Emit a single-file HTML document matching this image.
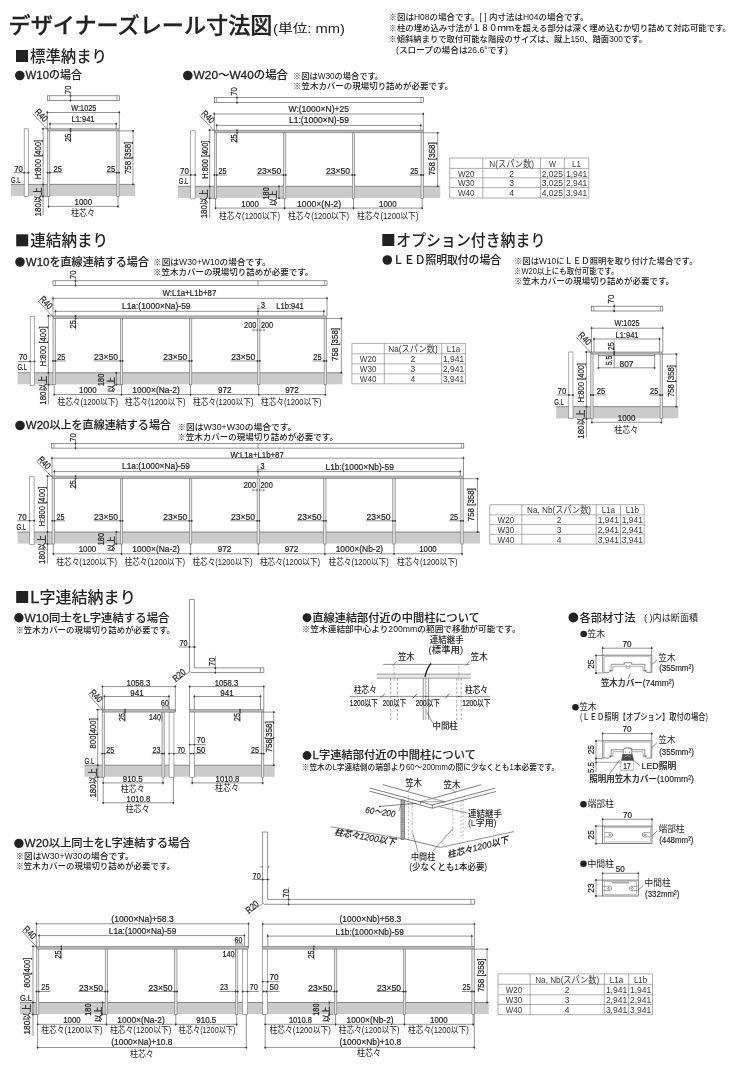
<!DOCTYPE html>
<html lang="ja"><head><meta charset="utf-8"><title>デザイナーズレール寸法図</title>
<style>
html,body{margin:0;padding:0;background:#fff;}
body{width:740px;height:1069px;overflow:hidden;}
svg{display:block;will-change:transform;transform:translateZ(0);}
text{fill:#222;}
.d{font-family:"Liberation Sans","Noto Sans CJK JP",sans-serif;stroke:#222;stroke-width:0.22px;}
.i{font-family:"Liberation Sans","Noto Sans CJK JP",sans-serif;font-style:italic;font-weight:500;stroke:#222;stroke-width:0.15px;}
.d2{font-family:"Liberation Sans","Noto Sans CJK JP",sans-serif;font-weight:500;stroke:#222;stroke-width:0.15px;}
.hs{font-family:"Liberation Sans","Noto Sans CJK JP",sans-serif;font-weight:500;stroke:#222;stroke-width:0.1px;}
.lb{font-size:104%;stroke:#222;stroke-width:0.28px;}
.n{font-family:"Liberation Sans","Noto Sans CJK JP",sans-serif;font-weight:500;}
.t{font-family:"Liberation Sans","Noto Sans CJK JP",sans-serif;fill:#3a3a3a;}
.h2{font-family:"Liberation Sans","Noto Sans CJK JP",sans-serif;font-weight:500;stroke:#222;stroke-width:0.3px;}
.j{font-family:"Liberation Sans","Noto Sans CJK JP",sans-serif;}
.h{font-family:"Liberation Sans","Noto Sans CJK JP",sans-serif;font-weight:500;}
.b{font-family:"Liberation Sans","Noto Sans CJK JP",sans-serif;font-weight:700;}
</style></head><body>
<svg width="740" height="1069" viewBox="0 0 740 1069">
<text class="h2" font-size="21.6" textLength="264" lengthAdjust="spacingAndGlyphs" x="8.5" y="33.18">デザイナーズレール寸法図</text>
<text class="j" font-size="12.5" textLength="72" lengthAdjust="spacingAndGlyphs" x="273" y="32.5">(単位: mm)</text>
<text class="n" font-size="8.4" textLength="200" lengthAdjust="spacingAndGlyphs" x="388.5" y="20.02">※図はH08の場合です。[ ] 内寸法はH04の場合です。</text>
<text class="n" font-size="8.4" textLength="342.5" lengthAdjust="spacingAndGlyphs" x="388.5" y="31.02">※柱の埋め込み寸法が１８０ｍｍを超える部分は深く埋め込むか切り詰めて対応可能です。</text>
<text class="n" font-size="8.4" textLength="258.5" lengthAdjust="spacingAndGlyphs" x="388.5" y="41.82">※傾斜納まりで取付可能な階段のサイズは、蹴上150、踏面300です。</text>
<text class="n" font-size="8.4" textLength="112" lengthAdjust="spacingAndGlyphs" x="396" y="52.62">(スロープの場合は26.6°です)</text>
<rect x="16" y="50" width="12" height="12" fill="#222"/>
<text class="h" font-size="15.5" textLength="77" lengthAdjust="spacingAndGlyphs" x="30" y="61.58">標準納まり</text>
<circle cx="19.8" cy="75.5" r="4.8" fill="#222"/>
<text class="hs" font-size="11" textLength="56.4" lengthAdjust="spacingAndGlyphs" x="25.6" y="79.46"><tspan class="lb">W10</tspan>の場合</text>
<circle cx="187.8" cy="75.5" r="4.8" fill="#222"/>
<text class="hs" font-size="11" textLength="94.4" lengthAdjust="spacingAndGlyphs" x="193.6" y="79.46"><tspan class="lb">W20</tspan>〜<tspan class="lb">W40</tspan>の場合</text>
<text class="n" font-size="8.4" textLength="90" lengthAdjust="spacingAndGlyphs" x="293" y="78.52">※図はW30の場合です。</text>
<text class="n" font-size="8.4" textLength="160" lengthAdjust="spacingAndGlyphs" x="293" y="88.52">※笠木カバーの現場切り詰めが必要です。</text>
<rect x="11" y="184.4" width="124.2" height="11.7" fill="#cbcbcb"/>
<line x1="11" y1="184.4" x2="135.2" y2="184.4" stroke="#4a4a4a" stroke-width="0.6"/>
<rect x="47.5" y="128.8" width="71.6" height="2.1" fill="#b8b8b8" stroke="#767676" stroke-width="0.6"/>
<rect x="47.5" y="130.9" width="2.3" height="65.5" fill="#e4e4e4" stroke="#767676" stroke-width="0.6"/>
<rect x="116.8" y="130.9" width="2.3" height="65.5" fill="#e4e4e4" stroke="#767676" stroke-width="0.6"/>
<rect x="24.2" y="128.8" width="4.2" height="67.6" fill="#fff" stroke="#767676" stroke-width="0.6"/>
<line x1="43.1" y1="128.8" x2="43.1" y2="215.4" stroke="#4a4a4a" stroke-width="0.6"/>
<line x1="41.6" y1="128.8" x2="47.5" y2="128.8" stroke="#4a4a4a" stroke-width="0.6"/>
<line x1="41.6" y1="196.4" x2="47.5" y2="196.4" stroke="#4a4a4a" stroke-width="0.6"/>
<circle cx="43.1" cy="128.8" r="0.9" fill="#333"/>
<circle cx="43.1" cy="184.4" r="0.9" fill="#333"/>
<circle cx="43.1" cy="196.4" r="0.9" fill="#333"/>
<text class="d" font-size="9.5" text-anchor="middle" textLength="39.5" lengthAdjust="spacingAndGlyphs" transform="translate(37.6 159.55) rotate(-90)" x="0" y="3.42">H:800 [400]</text>
<text class="d" font-size="8.8" text-anchor="middle" textLength="29" lengthAdjust="spacingAndGlyphs" transform="translate(37.6 201.9) rotate(-90)" x="0" y="3.17">180以上</text>
<text class="d" font-size="9.5" text-anchor="middle" textLength="8.6" lengthAdjust="spacingAndGlyphs" x="18.6" y="171.92">70</text>
<line x1="13.5" y1="172.7" x2="30" y2="172.7" stroke="#4a4a4a" stroke-width="0.6"/>
<circle cx="24.2" cy="172.7" r="0.9" fill="#333"/>
<circle cx="28.4" cy="172.7" r="0.9" fill="#333"/>
<text class="d" font-size="9.2" text-anchor="middle" textLength="9.5" lengthAdjust="spacingAndGlyphs" x="15.75" y="182.61">G.L</text>
<text class="d" font-size="9.5" text-anchor="middle" textLength="8.4" lengthAdjust="spacingAndGlyphs" x="57.7" y="171.92">25</text>
<line x1="47.5" y1="172.7" x2="62.5" y2="172.7" stroke="#4a4a4a" stroke-width="0.6"/>
<circle cx="47.5" cy="172.7" r="0.9" fill="#333"/>
<circle cx="49.8" cy="172.7" r="0.9" fill="#333"/>
<text class="d" font-size="9.5" text-anchor="middle" textLength="8.3" lengthAdjust="spacingAndGlyphs" x="110.95" y="171.92">25</text>
<line x1="106" y1="172.7" x2="119.1" y2="172.7" stroke="#4a4a4a" stroke-width="0.6"/>
<circle cx="116.8" cy="172.7" r="0.9" fill="#333"/>
<circle cx="119.1" cy="172.7" r="0.9" fill="#333"/>
<line x1="133" y1="130.9" x2="133" y2="184.4" stroke="#4a4a4a" stroke-width="0.6"/>
<line x1="119.1" y1="130.9" x2="134.5" y2="130.9" stroke="#4a4a4a" stroke-width="0.6"/>
<circle cx="133" cy="130.9" r="0.9" fill="#333"/>
<circle cx="133" cy="184.4" r="0.9" fill="#333"/>
<text class="d" font-size="9.5" text-anchor="middle" textLength="32" lengthAdjust="spacingAndGlyphs" transform="translate(127.3 157.9) rotate(-90)" x="0" y="3.42">758 [358]</text>
<line x1="48.6" y1="206.4" x2="118" y2="206.4" stroke="#4a4a4a" stroke-width="0.6"/>
<circle cx="48.6" cy="206.4" r="0.9" fill="#333"/>
<circle cx="118" cy="206.4" r="0.9" fill="#333"/>
<line x1="48.6" y1="196.4" x2="48.6" y2="208" stroke="#4a4a4a" stroke-width="0.6"/>
<line x1="118" y1="196.4" x2="118" y2="208" stroke="#4a4a4a" stroke-width="0.6"/>
<text class="d" font-size="9.5" text-anchor="middle" textLength="17.6" lengthAdjust="spacingAndGlyphs" x="83.3" y="205.02">1000</text>
<text class="j" font-size="8.6" text-anchor="middle" textLength="24" lengthAdjust="spacingAndGlyphs" x="82.9" y="216.1">柱芯々</text>
<rect x="47.3" y="95.8" width="72" height="4.6" fill="#fff" stroke="#4a4a4a" stroke-width="0.6"/>
<line x1="49.7" y1="95.8" x2="49.7" y2="100.4" stroke="#4a4a4a" stroke-width="0.5"/>
<line x1="116.9" y1="95.8" x2="116.9" y2="100.4" stroke="#4a4a4a" stroke-width="0.5"/>
<line x1="70.5" y1="93.2" x2="70.5" y2="101.8" stroke="#4a4a4a" stroke-width="0.6"/>
<circle cx="70.5" cy="95.8" r="0.9" fill="#333"/>
<circle cx="70.5" cy="100.4" r="0.9" fill="#333"/>
<text class="d" font-size="9.5" text-anchor="middle" textLength="8.3" lengthAdjust="spacingAndGlyphs" transform="translate(67.3 89.85) rotate(-90)" x="0" y="3.42">70</text>
<line x1="47.3" y1="112.5" x2="119.3" y2="112.5" stroke="#4a4a4a" stroke-width="0.6"/>
<circle cx="47.3" cy="112.5" r="0.9" fill="#333"/>
<circle cx="119.3" cy="112.5" r="0.9" fill="#333"/>
<line x1="47.3" y1="110.8" x2="47.3" y2="128.8" stroke="#4a4a4a" stroke-width="0.6"/>
<line x1="119.3" y1="110.8" x2="119.3" y2="128.8" stroke="#4a4a4a" stroke-width="0.6"/>
<text class="d" font-size="9.5" text-anchor="middle" textLength="25" lengthAdjust="spacingAndGlyphs" x="83.8" y="111.22">W:1025</text>
<line x1="50" y1="123.9" x2="116.3" y2="123.9" stroke="#4a4a4a" stroke-width="0.6"/>
<circle cx="50" cy="123.9" r="0.9" fill="#333"/>
<circle cx="116.3" cy="123.9" r="0.9" fill="#333"/>
<line x1="50" y1="122.2" x2="50" y2="128.8" stroke="#4a4a4a" stroke-width="0.6"/>
<line x1="116.3" y1="122.2" x2="116.3" y2="128.8" stroke="#4a4a4a" stroke-width="0.6"/>
<text class="d" font-size="9.5" text-anchor="middle" textLength="23" lengthAdjust="spacingAndGlyphs" x="83" y="122.42">L1:941</text>
<line x1="32.7" y1="113.7" x2="48.3" y2="130.2" stroke="#4a4a4a" stroke-width="0.6"/>
<text class="d" font-size="9.4" text-anchor="middle" textLength="14" lengthAdjust="spacingAndGlyphs" transform="translate(41.5 115.1) rotate(45)" x="0" y="3.38">R40</text>
<line x1="70.5" y1="128.8" x2="70.5" y2="142" stroke="#4a4a4a" stroke-width="0.6"/>
<circle cx="70.5" cy="128.8" r="0.9" fill="#333"/>
<circle cx="70.5" cy="130.9" r="0.9" fill="#333"/>
<text class="d" font-size="9.5" text-anchor="middle" textLength="8.3" lengthAdjust="spacingAndGlyphs" transform="translate(67.3 137.65) rotate(-90)" x="0" y="3.42">25</text>
<rect x="382.3" y="234" width="12" height="12" fill="#222"/>
<text class="h" font-size="15.5" textLength="149" lengthAdjust="spacingAndGlyphs" x="396.3" y="245.58">オプション付き納まり</text>
<circle cx="387.3" cy="260" r="4.8" fill="#222"/>
<text class="hs" font-size="11" textLength="107.9" lengthAdjust="spacingAndGlyphs" x="393.1" y="263.96">ＬＥＤ照明取付の場合</text>
<text class="n" font-size="8.4" textLength="183.5" lengthAdjust="spacingAndGlyphs" x="514" y="264.02">※図はW10にＬＥＤ照明を取り付けた場合です。</text>
<text class="n" font-size="8.4" textLength="104.5" lengthAdjust="spacingAndGlyphs" x="514" y="274.02">※W20以上にも取付可能です。</text>
<text class="n" font-size="8.4" textLength="160" lengthAdjust="spacingAndGlyphs" x="514" y="284.02">※笠木カバーの現場切り詰めが必要です。</text>
<rect x="556.2" y="406.7" width="122.2" height="11.7" fill="#cbcbcb"/>
<line x1="556.2" y1="406.7" x2="678.4" y2="406.7" stroke="#4a4a4a" stroke-width="0.6"/>
<rect x="590.8" y="352" width="71.6" height="2.1" fill="#b8b8b8" stroke="#767676" stroke-width="0.6"/>
<rect x="590.8" y="354.1" width="2.3" height="64.6" fill="#e4e4e4" stroke="#767676" stroke-width="0.6"/>
<rect x="660.1" y="354.1" width="2.3" height="64.6" fill="#e4e4e4" stroke="#767676" stroke-width="0.6"/>
<rect x="568.8" y="352" width="4.2" height="66.7" fill="#fff" stroke="#767676" stroke-width="0.6"/>
<line x1="586.4" y1="352" x2="586.4" y2="437.7" stroke="#4a4a4a" stroke-width="0.6"/>
<line x1="584.9" y1="352" x2="590.8" y2="352" stroke="#4a4a4a" stroke-width="0.6"/>
<line x1="584.9" y1="418.7" x2="590.8" y2="418.7" stroke="#4a4a4a" stroke-width="0.6"/>
<circle cx="586.4" cy="352" r="0.9" fill="#333"/>
<circle cx="586.4" cy="406.7" r="0.9" fill="#333"/>
<circle cx="586.4" cy="418.7" r="0.9" fill="#333"/>
<text class="d" font-size="9.5" text-anchor="middle" textLength="39.5" lengthAdjust="spacingAndGlyphs" transform="translate(580.9 382.75) rotate(-90)" x="0" y="3.42">H:800 [400]</text>
<text class="d" font-size="8.8" text-anchor="middle" textLength="29" lengthAdjust="spacingAndGlyphs" transform="translate(580.9 424.2) rotate(-90)" x="0" y="3.17">180以上</text>
<text class="d" font-size="9.5" text-anchor="middle" textLength="8.6" lengthAdjust="spacingAndGlyphs" x="561.9" y="394.22">70</text>
<line x1="556.8" y1="395" x2="573.3" y2="395" stroke="#4a4a4a" stroke-width="0.6"/>
<circle cx="568.8" cy="395" r="0.9" fill="#333"/>
<circle cx="573" cy="395" r="0.9" fill="#333"/>
<text class="d" font-size="9.2" text-anchor="middle" textLength="9.5" lengthAdjust="spacingAndGlyphs" x="559.05" y="404.91">G.L</text>
<text class="d" font-size="9.5" text-anchor="middle" textLength="8.4" lengthAdjust="spacingAndGlyphs" x="601" y="394.22">25</text>
<line x1="590.8" y1="395" x2="605.8" y2="395" stroke="#4a4a4a" stroke-width="0.6"/>
<circle cx="590.8" cy="395" r="0.9" fill="#333"/>
<circle cx="593.1" cy="395" r="0.9" fill="#333"/>
<text class="d" font-size="9.5" text-anchor="middle" textLength="8.3" lengthAdjust="spacingAndGlyphs" x="654.25" y="394.22">25</text>
<line x1="649.3" y1="395" x2="662.4" y2="395" stroke="#4a4a4a" stroke-width="0.6"/>
<circle cx="660.1" cy="395" r="0.9" fill="#333"/>
<circle cx="662.4" cy="395" r="0.9" fill="#333"/>
<line x1="676.3" y1="354.1" x2="676.3" y2="406.7" stroke="#4a4a4a" stroke-width="0.6"/>
<line x1="662.4" y1="354.1" x2="677.8" y2="354.1" stroke="#4a4a4a" stroke-width="0.6"/>
<circle cx="676.3" cy="354.1" r="0.9" fill="#333"/>
<circle cx="676.3" cy="406.7" r="0.9" fill="#333"/>
<text class="d" font-size="9.5" text-anchor="middle" textLength="32" lengthAdjust="spacingAndGlyphs" transform="translate(670.6 381.1) rotate(-90)" x="0" y="3.42">758 [358]</text>
<line x1="591.9" y1="422.3" x2="661.3" y2="422.3" stroke="#4a4a4a" stroke-width="0.6"/>
<circle cx="591.9" cy="422.3" r="0.9" fill="#333"/>
<circle cx="661.3" cy="422.3" r="0.9" fill="#333"/>
<line x1="591.9" y1="418.7" x2="591.9" y2="423.9" stroke="#4a4a4a" stroke-width="0.6"/>
<line x1="661.3" y1="418.7" x2="661.3" y2="423.9" stroke="#4a4a4a" stroke-width="0.6"/>
<text class="d" font-size="9.5" text-anchor="middle" textLength="17.6" lengthAdjust="spacingAndGlyphs" x="626.6" y="420.92">1000</text>
<text class="j" font-size="8.6" text-anchor="middle" textLength="24" lengthAdjust="spacingAndGlyphs" x="626.2" y="432.5">柱芯々</text>
<rect x="591.5" y="306.2" width="71.3" height="4.8" fill="#fff" stroke="#4a4a4a" stroke-width="0.6"/>
<line x1="593.9" y1="306.2" x2="593.9" y2="311" stroke="#4a4a4a" stroke-width="0.5"/>
<line x1="660.4" y1="306.2" x2="660.4" y2="311" stroke="#4a4a4a" stroke-width="0.5"/>
<line x1="614.2" y1="303.5" x2="614.2" y2="312.5" stroke="#4a4a4a" stroke-width="0.6"/>
<circle cx="614.2" cy="306.2" r="0.9" fill="#333"/>
<circle cx="614.2" cy="311" r="0.9" fill="#333"/>
<text class="d" font-size="9.5" text-anchor="middle" textLength="8.7" lengthAdjust="spacingAndGlyphs" transform="translate(611 299.05) rotate(-90)" x="0" y="3.42">70</text>
<line x1="591.5" y1="328.2" x2="662.8" y2="328.2" stroke="#4a4a4a" stroke-width="0.6"/>
<circle cx="591.5" cy="328.2" r="0.9" fill="#333"/>
<circle cx="662.8" cy="328.2" r="0.9" fill="#333"/>
<line x1="591.5" y1="326.5" x2="591.5" y2="352" stroke="#4a4a4a" stroke-width="0.6"/>
<line x1="662.8" y1="326.5" x2="662.8" y2="352" stroke="#4a4a4a" stroke-width="0.6"/>
<text class="d" font-size="9.5" text-anchor="middle" textLength="25" lengthAdjust="spacingAndGlyphs" x="627.1" y="326.22">W:1025</text>
<line x1="594" y1="339" x2="659.6" y2="339" stroke="#4a4a4a" stroke-width="0.6"/>
<circle cx="594" cy="339" r="0.9" fill="#333"/>
<circle cx="659.6" cy="339" r="0.9" fill="#333"/>
<line x1="594" y1="337.3" x2="594" y2="352" stroke="#4a4a4a" stroke-width="0.6"/>
<line x1="659.6" y1="337.3" x2="659.6" y2="352" stroke="#4a4a4a" stroke-width="0.6"/>
<text class="d" font-size="9.5" text-anchor="middle" textLength="23" lengthAdjust="spacingAndGlyphs" x="627" y="337.72">L1:941</text>
<line x1="576" y1="337" x2="591.5" y2="353.3" stroke="#4a4a4a" stroke-width="0.6"/>
<text class="d" font-size="9.4" text-anchor="middle" textLength="14" lengthAdjust="spacingAndGlyphs" transform="translate(584.9 338.4) rotate(45)" x="0" y="3.38">R40</text>
<line x1="614.2" y1="340.5" x2="614.2" y2="368" stroke="#4a4a4a" stroke-width="0.6"/>
<circle cx="614.2" cy="352" r="0.9" fill="#333"/>
<circle cx="614.2" cy="354.2" r="0.9" fill="#333"/>
<text class="d" font-size="9.5" text-anchor="middle" textLength="7.9" lengthAdjust="spacingAndGlyphs" transform="translate(611 346.25) rotate(-90)" x="0" y="3.42">25</text>
<text class="d" font-size="9.5" text-anchor="middle" textLength="9.6" lengthAdjust="spacingAndGlyphs" transform="translate(609 360.4) rotate(-90)" x="0" y="3.42">5.5</text>
<line x1="598.4" y1="355.6" x2="654.6" y2="355.6" stroke="#777" stroke-width="0.9"/>
<line x1="598.4" y1="367.8" x2="654.6" y2="367.8" stroke="#4a4a4a" stroke-width="0.6"/>
<circle cx="598.4" cy="367.8" r="0.9" fill="#333"/>
<circle cx="654.6" cy="367.8" r="0.9" fill="#333"/>
<line x1="598.4" y1="354.2" x2="598.4" y2="369" stroke="#4a4a4a" stroke-width="0.6"/>
<line x1="654.6" y1="354.2" x2="654.6" y2="369" stroke="#4a4a4a" stroke-width="0.6"/>
<text class="d" font-size="9.5" text-anchor="middle" textLength="14" lengthAdjust="spacingAndGlyphs" x="626.5" y="366.62">807</text>
<rect x="177.8" y="186.3" width="262.4" height="11.6" fill="#cbcbcb"/>
<line x1="177.8" y1="186.3" x2="440.2" y2="186.3" stroke="#4a4a4a" stroke-width="0.6"/>
<rect x="214.3" y="130.2" width="209.1" height="2.6" fill="#b8b8b8" stroke="#767676" stroke-width="0.6"/>
<rect x="214.3" y="132.8" width="2.4" height="65.5" fill="#e4e4e4" stroke="#767676" stroke-width="0.6"/>
<rect x="283.4" y="132.8" width="2.4" height="65.5" fill="#e4e4e4" stroke="#767676" stroke-width="0.6"/>
<rect x="352.3" y="132.8" width="2.4" height="65.5" fill="#e4e4e4" stroke="#767676" stroke-width="0.6"/>
<rect x="421" y="132.8" width="2.4" height="65.5" fill="#e4e4e4" stroke="#767676" stroke-width="0.6"/>
<line x1="209.7" y1="130.2" x2="209.7" y2="217.8" stroke="#4a4a4a" stroke-width="0.6"/>
<line x1="208.2" y1="130.2" x2="214.3" y2="130.2" stroke="#4a4a4a" stroke-width="0.6"/>
<line x1="208.2" y1="198.3" x2="214.3" y2="198.3" stroke="#4a4a4a" stroke-width="0.6"/>
<circle cx="209.7" cy="130.2" r="0.9" fill="#333"/>
<circle cx="209.7" cy="186.3" r="0.9" fill="#333"/>
<circle cx="209.7" cy="198.3" r="0.9" fill="#333"/>
<text class="d" font-size="9.5" text-anchor="middle" textLength="38" lengthAdjust="spacingAndGlyphs" transform="translate(204.1 159.7) rotate(-90)" x="0" y="3.42">H:800 [400]</text>
<text class="d" font-size="8.8" text-anchor="middle" textLength="29" lengthAdjust="spacingAndGlyphs" transform="translate(204.1 203.8) rotate(-90)" x="0" y="3.17">180以上</text>
<rect x="190.7" y="130.8" width="4.4" height="68.1" fill="#fff" stroke="#767676" stroke-width="0.6"/>
<text class="d" font-size="9.5" text-anchor="middle" textLength="8.8" lengthAdjust="spacingAndGlyphs" x="184.4" y="174.02">70</text>
<line x1="179.3" y1="175" x2="196.3" y2="175" stroke="#4a4a4a" stroke-width="0.6"/>
<circle cx="190.7" cy="175" r="0.9" fill="#333"/>
<circle cx="195.1" cy="175" r="0.9" fill="#333"/>
<text class="d" font-size="9.2" text-anchor="middle" textLength="9.5" lengthAdjust="spacingAndGlyphs" x="183.55" y="184.01">G.L</text>
<line x1="437.7" y1="132.8" x2="437.7" y2="186.3" stroke="#4a4a4a" stroke-width="0.6"/>
<line x1="423.4" y1="132.8" x2="439.2" y2="132.8" stroke="#4a4a4a" stroke-width="0.6"/>
<circle cx="437.7" cy="132.8" r="0.9" fill="#333"/>
<circle cx="437.7" cy="186.3" r="0.9" fill="#333"/>
<text class="d" font-size="9.5" text-anchor="middle" textLength="33" lengthAdjust="spacingAndGlyphs" transform="translate(431.1 158.8) rotate(-90)" x="0" y="3.42">758 [358]</text>
<text class="d" font-size="9.5" text-anchor="middle" textLength="8" lengthAdjust="spacingAndGlyphs" x="222.6" y="174.02">25</text>
<line x1="214.3" y1="175" x2="227.3" y2="175" stroke="#4a4a4a" stroke-width="0.6"/>
<circle cx="214.3" cy="175" r="0.9" fill="#333"/>
<circle cx="216.7" cy="175" r="0.9" fill="#333"/>
<text class="d" font-size="9.5" text-anchor="middle" textLength="8.2" lengthAdjust="spacingAndGlyphs" x="414.3" y="174.02">25</text>
<line x1="409.4" y1="175" x2="423.4" y2="175" stroke="#4a4a4a" stroke-width="0.6"/>
<circle cx="421" cy="175" r="0.9" fill="#333"/>
<circle cx="423.4" cy="175" r="0.9" fill="#333"/>
<text class="d" font-size="9.5" text-anchor="middle" textLength="24" lengthAdjust="spacingAndGlyphs" x="269.2" y="174.02">23×50</text>
<line x1="256.6" y1="175" x2="285.8" y2="175" stroke="#4a4a4a" stroke-width="0.6"/>
<circle cx="283.4" cy="175" r="0.9" fill="#333"/>
<circle cx="285.8" cy="175" r="0.9" fill="#333"/>
<text class="d" font-size="9.5" text-anchor="middle" textLength="24" lengthAdjust="spacingAndGlyphs" x="338.1" y="174.02">23×50</text>
<line x1="325.5" y1="175" x2="354.7" y2="175" stroke="#4a4a4a" stroke-width="0.6"/>
<circle cx="352.3" cy="175" r="0.9" fill="#333"/>
<circle cx="354.7" cy="175" r="0.9" fill="#333"/>
<text class="d" font-size="8.6" text-anchor="middle" textLength="12.2" lengthAdjust="spacingAndGlyphs" transform="translate(265.4 193.4) rotate(-90)" x="0" y="3.1">180</text>
<text class="d" font-size="8.4" text-anchor="middle" textLength="15.6" lengthAdjust="spacingAndGlyphs" transform="translate(273.4 198.3) rotate(-90)" x="0" y="3.02">以上</text>
<line x1="279" y1="186.3" x2="279" y2="198.4" stroke="#4a4a4a" stroke-width="0.6"/>
<circle cx="279" cy="186.3" r="0.9" fill="#333"/>
<circle cx="279" cy="198.2" r="0.9" fill="#333"/>
<line x1="277.5" y1="198.2" x2="283" y2="198.2" stroke="#4a4a4a" stroke-width="0.6"/>
<line x1="215.5" y1="208.1" x2="422.2" y2="208.1" stroke="#4a4a4a" stroke-width="0.6"/>
<line x1="215.5" y1="198.3" x2="215.5" y2="209.7" stroke="#4a4a4a" stroke-width="0.6"/>
<circle cx="215.5" cy="208.1" r="0.9" fill="#333"/>
<line x1="284.6" y1="198.3" x2="284.6" y2="209.7" stroke="#4a4a4a" stroke-width="0.6"/>
<circle cx="284.6" cy="208.1" r="0.9" fill="#333"/>
<line x1="353.5" y1="198.3" x2="353.5" y2="209.7" stroke="#4a4a4a" stroke-width="0.6"/>
<circle cx="353.5" cy="208.1" r="0.9" fill="#333"/>
<line x1="422.2" y1="198.3" x2="422.2" y2="209.7" stroke="#4a4a4a" stroke-width="0.6"/>
<circle cx="422.2" cy="208.1" r="0.9" fill="#333"/>
<text class="d" font-size="9.5" text-anchor="middle" textLength="17.5" lengthAdjust="spacingAndGlyphs" x="250.05" y="206.52">1000</text>
<text class="d" font-size="9.5" text-anchor="middle" textLength="44" lengthAdjust="spacingAndGlyphs" x="319.05" y="206.52">1000×(N-2)</text>
<text class="d" font-size="9.5" text-anchor="middle" textLength="17.5" lengthAdjust="spacingAndGlyphs" x="387.85" y="206.52">1000</text>
<text class="j" font-size="8.6" textLength="61.1" lengthAdjust="spacingAndGlyphs" x="218.9" y="218.9">柱芯々(1200以下)</text>
<text class="j" font-size="8.6" textLength="61" lengthAdjust="spacingAndGlyphs" x="288" y="218.9">柱芯々(1200以下)</text>
<text class="j" font-size="8.6" textLength="61.5" lengthAdjust="spacingAndGlyphs" x="357" y="218.9">柱芯々(1200以下)</text>
<rect x="214.3" y="97.6" width="209" height="5" fill="#fff" stroke="#4a4a4a" stroke-width="0.6"/>
<line x1="216.7" y1="97.6" x2="216.7" y2="102.6" stroke="#4a4a4a" stroke-width="0.5"/>
<line x1="420.9" y1="97.6" x2="420.9" y2="102.6" stroke="#4a4a4a" stroke-width="0.5"/>
<line x1="237" y1="94.9" x2="237" y2="104" stroke="#4a4a4a" stroke-width="0.6"/>
<circle cx="237" cy="97.6" r="0.9" fill="#333"/>
<circle cx="237" cy="102.6" r="0.9" fill="#333"/>
<text class="d" font-size="9.5" text-anchor="middle" textLength="8.4" lengthAdjust="spacingAndGlyphs" transform="translate(233.7 91.6) rotate(-90)" x="0" y="3.42">70</text>
<line x1="214.3" y1="114" x2="423.3" y2="114" stroke="#4a4a4a" stroke-width="0.6"/>
<circle cx="214.3" cy="114" r="0.9" fill="#333"/>
<circle cx="423.3" cy="114" r="0.9" fill="#333"/>
<line x1="214.3" y1="112.3" x2="214.3" y2="130.2" stroke="#4a4a4a" stroke-width="0.6"/>
<line x1="423.3" y1="112.3" x2="423.3" y2="130.2" stroke="#4a4a4a" stroke-width="0.6"/>
<text class="d" font-size="9.5" text-anchor="middle" textLength="60.5" lengthAdjust="spacingAndGlyphs" x="318.75" y="112.22">W:(1000×N)+25</text>
<line x1="216.7" y1="125.4" x2="420.8" y2="125.4" stroke="#4a4a4a" stroke-width="0.6"/>
<circle cx="216.7" cy="125.4" r="0.9" fill="#333"/>
<circle cx="420.8" cy="125.4" r="0.9" fill="#333"/>
<line x1="216.7" y1="123.7" x2="216.7" y2="130.2" stroke="#4a4a4a" stroke-width="0.6"/>
<line x1="420.8" y1="123.7" x2="420.8" y2="130.2" stroke="#4a4a4a" stroke-width="0.6"/>
<text class="d" font-size="9.5" text-anchor="middle" textLength="60" lengthAdjust="spacingAndGlyphs" x="319" y="123.42">L1:(1000×N)-59</text>
<line x1="199.5" y1="115.2" x2="215" y2="131.6" stroke="#4a4a4a" stroke-width="0.6"/>
<text class="d" font-size="9.4" text-anchor="middle" textLength="14" lengthAdjust="spacingAndGlyphs" transform="translate(208.1 116.7) rotate(45)" x="0" y="3.38">R40</text>
<line x1="237" y1="130.2" x2="237" y2="143.5" stroke="#4a4a4a" stroke-width="0.6"/>
<circle cx="237" cy="130.2" r="0.9" fill="#333"/>
<circle cx="237" cy="132.8" r="0.9" fill="#333"/>
<text class="d" font-size="9.5" text-anchor="middle" textLength="8.2" lengthAdjust="spacingAndGlyphs" transform="translate(233.8 138.5) rotate(-90)" x="0" y="3.42">25</text>
<line x1="449.7" y1="158" x2="588.8" y2="158" stroke="#777" stroke-width="0.6"/>
<line x1="449.7" y1="168.4" x2="588.8" y2="168.4" stroke="#777" stroke-width="0.6"/>
<line x1="449.7" y1="177.9" x2="588.8" y2="177.9" stroke="#777" stroke-width="0.6"/>
<line x1="449.7" y1="187.6" x2="588.8" y2="187.6" stroke="#777" stroke-width="0.6"/>
<line x1="449.7" y1="198" x2="588.8" y2="198" stroke="#777" stroke-width="0.6"/>
<line x1="449.7" y1="158" x2="449.7" y2="198" stroke="#777" stroke-width="0.6"/>
<line x1="482.8" y1="158" x2="482.8" y2="198" stroke="#777" stroke-width="0.6"/>
<line x1="540.5" y1="158" x2="540.5" y2="198" stroke="#777" stroke-width="0.6"/>
<line x1="564.3" y1="158" x2="564.3" y2="198" stroke="#777" stroke-width="0.6"/>
<line x1="588.8" y1="158" x2="588.8" y2="198" stroke="#777" stroke-width="0.6"/>
<text class="t" font-size="8.6" text-anchor="middle" textLength="44.89" lengthAdjust="spacingAndGlyphs" x="511.65" y="166.7">N(スパン数)</text>
<text class="t" font-size="8.6" text-anchor="middle" textLength="7.05" lengthAdjust="spacingAndGlyphs" x="552.4" y="166.7">W</text>
<text class="t" font-size="8.6" text-anchor="middle" textLength="8.86" lengthAdjust="spacingAndGlyphs" x="576.55" y="166.7">L1</text>
<text class="t" font-size="8.6" text-anchor="middle" textLength="16.51" lengthAdjust="spacingAndGlyphs" x="466.25" y="176.65">W20</text>
<text class="t" font-size="8.6" text-anchor="middle" textLength="4.73" lengthAdjust="spacingAndGlyphs" x="511.65" y="176.65">2</text>
<text class="t" font-size="8.6" text-anchor="middle" textLength="21.24" lengthAdjust="spacingAndGlyphs" x="552.4" y="176.65">2,025</text>
<text class="t" font-size="8.6" text-anchor="middle" textLength="21.24" lengthAdjust="spacingAndGlyphs" x="576.55" y="176.65">1,941</text>
<text class="t" font-size="8.6" text-anchor="middle" textLength="16.51" lengthAdjust="spacingAndGlyphs" x="466.25" y="186.25">W30</text>
<text class="t" font-size="8.6" text-anchor="middle" textLength="4.73" lengthAdjust="spacingAndGlyphs" x="511.65" y="186.25">3</text>
<text class="t" font-size="8.6" text-anchor="middle" textLength="21.24" lengthAdjust="spacingAndGlyphs" x="552.4" y="186.25">3,025</text>
<text class="t" font-size="8.6" text-anchor="middle" textLength="21.24" lengthAdjust="spacingAndGlyphs" x="576.55" y="186.25">2,941</text>
<text class="t" font-size="8.6" text-anchor="middle" textLength="16.51" lengthAdjust="spacingAndGlyphs" x="466.25" y="196.3">W40</text>
<text class="t" font-size="8.6" text-anchor="middle" textLength="4.73" lengthAdjust="spacingAndGlyphs" x="511.65" y="196.3">4</text>
<text class="t" font-size="8.6" text-anchor="middle" textLength="21.24" lengthAdjust="spacingAndGlyphs" x="552.4" y="196.3">4,025</text>
<text class="t" font-size="8.6" text-anchor="middle" textLength="21.24" lengthAdjust="spacingAndGlyphs" x="576.55" y="196.3">3,941</text>
<rect x="16.2" y="234.3" width="12" height="12" fill="#222"/>
<text class="h" font-size="15.5" textLength="78" lengthAdjust="spacingAndGlyphs" x="30.2" y="245.88">連結納まり</text>
<circle cx="20" cy="262" r="4.8" fill="#222"/>
<text class="hs" font-size="11" textLength="123.2" lengthAdjust="spacingAndGlyphs" x="25.8" y="265.96"><tspan class="lb">W10</tspan>を直線連結する場合</text>
<text class="n" font-size="8.4" textLength="117.7" lengthAdjust="spacingAndGlyphs" x="153" y="265.02">※図はW30+W10の場合です。</text>
<text class="n" font-size="8.4" textLength="160.3" lengthAdjust="spacingAndGlyphs" x="153" y="275.32">※笠木カバーの現場切り詰めが必要です。</text>
<rect x="17.5" y="372.75" width="325" height="11.6" fill="#cbcbcb"/>
<line x1="17.5" y1="372.75" x2="342.5" y2="372.75" stroke="#4a4a4a" stroke-width="0.6"/>
<rect x="53" y="315.9" width="273.5" height="2.6" fill="#b8b8b8" stroke="#767676" stroke-width="0.6"/>
<rect x="53" y="318.5" width="2.4" height="66.25" fill="#e4e4e4" stroke="#767676" stroke-width="0.6"/>
<rect x="120.3" y="318.5" width="2.4" height="66.25" fill="#e4e4e4" stroke="#767676" stroke-width="0.6"/>
<rect x="189.4" y="318.5" width="2.4" height="66.25" fill="#e4e4e4" stroke="#767676" stroke-width="0.6"/>
<rect x="257.5" y="318.5" width="2.4" height="66.25" fill="#e4e4e4" stroke="#767676" stroke-width="0.6"/>
<rect x="324.1" y="318.5" width="2.4" height="66.25" fill="#e4e4e4" stroke="#767676" stroke-width="0.6"/>
<line x1="48.4" y1="315.9" x2="48.4" y2="404.25" stroke="#4a4a4a" stroke-width="0.6"/>
<line x1="46.9" y1="315.9" x2="53" y2="315.9" stroke="#4a4a4a" stroke-width="0.6"/>
<line x1="46.9" y1="384.75" x2="53" y2="384.75" stroke="#4a4a4a" stroke-width="0.6"/>
<circle cx="48.4" cy="315.9" r="0.9" fill="#333"/>
<circle cx="48.4" cy="372.75" r="0.9" fill="#333"/>
<circle cx="48.4" cy="384.75" r="0.9" fill="#333"/>
<text class="d" font-size="9.5" text-anchor="middle" textLength="40" lengthAdjust="spacingAndGlyphs" transform="translate(42.8 346.4) rotate(-90)" x="0" y="3.42">H:800 [400]</text>
<text class="d" font-size="8.8" text-anchor="middle" textLength="29" lengthAdjust="spacingAndGlyphs" transform="translate(42.8 390.25) rotate(-90)" x="0" y="3.17">180以上</text>
<rect x="30.2" y="316.5" width="4.4" height="68.85" fill="#fff" stroke="#767676" stroke-width="0.6"/>
<text class="d" font-size="9.5" text-anchor="middle" textLength="8.8" lengthAdjust="spacingAndGlyphs" x="23.1" y="360.47">70</text>
<line x1="18" y1="361.45" x2="35" y2="361.45" stroke="#4a4a4a" stroke-width="0.6"/>
<circle cx="30.2" cy="361.45" r="0.9" fill="#333"/>
<circle cx="34.6" cy="361.45" r="0.9" fill="#333"/>
<text class="d" font-size="9.2" text-anchor="middle" textLength="9.5" lengthAdjust="spacingAndGlyphs" x="22.25" y="370.46">G.L</text>
<line x1="341.3" y1="318.5" x2="341.3" y2="372.75" stroke="#4a4a4a" stroke-width="0.6"/>
<line x1="326.5" y1="318.5" x2="342.8" y2="318.5" stroke="#4a4a4a" stroke-width="0.6"/>
<circle cx="341.3" cy="318.5" r="0.9" fill="#333"/>
<circle cx="341.3" cy="372.75" r="0.9" fill="#333"/>
<text class="d" font-size="9.5" text-anchor="middle" textLength="33" lengthAdjust="spacingAndGlyphs" transform="translate(334.7 344.5) rotate(-90)" x="0" y="3.42">758 [358]</text>
<text class="d" font-size="9.5" text-anchor="middle" textLength="8" lengthAdjust="spacingAndGlyphs" x="61.3" y="359.97">25</text>
<line x1="53" y1="360.95" x2="66" y2="360.95" stroke="#4a4a4a" stroke-width="0.6"/>
<circle cx="53" cy="360.95" r="0.9" fill="#333"/>
<circle cx="55.4" cy="360.95" r="0.9" fill="#333"/>
<text class="d" font-size="9.5" text-anchor="middle" textLength="8.2" lengthAdjust="spacingAndGlyphs" x="317.4" y="359.97">25</text>
<line x1="312.5" y1="360.95" x2="326.5" y2="360.95" stroke="#4a4a4a" stroke-width="0.6"/>
<circle cx="324.1" cy="360.95" r="0.9" fill="#333"/>
<circle cx="326.5" cy="360.95" r="0.9" fill="#333"/>
<text class="d" font-size="9.5" text-anchor="middle" textLength="24" lengthAdjust="spacingAndGlyphs" x="106.1" y="359.97">23×50</text>
<line x1="93.5" y1="360.95" x2="122.7" y2="360.95" stroke="#4a4a4a" stroke-width="0.6"/>
<circle cx="120.3" cy="360.95" r="0.9" fill="#333"/>
<circle cx="122.7" cy="360.95" r="0.9" fill="#333"/>
<text class="d" font-size="9.5" text-anchor="middle" textLength="24" lengthAdjust="spacingAndGlyphs" x="175.2" y="359.97">23×50</text>
<line x1="162.6" y1="360.95" x2="191.8" y2="360.95" stroke="#4a4a4a" stroke-width="0.6"/>
<circle cx="189.4" cy="360.95" r="0.9" fill="#333"/>
<circle cx="191.8" cy="360.95" r="0.9" fill="#333"/>
<text class="d" font-size="9.5" text-anchor="middle" textLength="24" lengthAdjust="spacingAndGlyphs" x="243.3" y="359.97">23×50</text>
<line x1="230.7" y1="360.95" x2="259.9" y2="360.95" stroke="#4a4a4a" stroke-width="0.6"/>
<circle cx="257.5" cy="360.95" r="0.9" fill="#333"/>
<circle cx="259.9" cy="360.95" r="0.9" fill="#333"/>
<text class="d" font-size="8.6" text-anchor="middle" textLength="12.2" lengthAdjust="spacingAndGlyphs" transform="translate(101.3 379.85) rotate(-90)" x="0" y="3.1">180</text>
<text class="d" font-size="8.4" text-anchor="middle" textLength="15.6" lengthAdjust="spacingAndGlyphs" transform="translate(111.3 384.75) rotate(-90)" x="0" y="3.02">以上</text>
<line x1="116.3" y1="372.75" x2="116.3" y2="384.85" stroke="#4a4a4a" stroke-width="0.6"/>
<circle cx="116.3" cy="372.75" r="0.9" fill="#333"/>
<circle cx="116.3" cy="384.65" r="0.9" fill="#333"/>
<line x1="114.8" y1="384.65" x2="120.3" y2="384.65" stroke="#4a4a4a" stroke-width="0.6"/>
<line x1="54.2" y1="394.55" x2="325.3" y2="394.55" stroke="#4a4a4a" stroke-width="0.6"/>
<line x1="54.2" y1="384.75" x2="54.2" y2="396.15" stroke="#4a4a4a" stroke-width="0.6"/>
<circle cx="54.2" cy="394.55" r="0.9" fill="#333"/>
<line x1="121.5" y1="384.75" x2="121.5" y2="396.15" stroke="#4a4a4a" stroke-width="0.6"/>
<circle cx="121.5" cy="394.55" r="0.9" fill="#333"/>
<line x1="190.6" y1="384.75" x2="190.6" y2="396.15" stroke="#4a4a4a" stroke-width="0.6"/>
<circle cx="190.6" cy="394.55" r="0.9" fill="#333"/>
<line x1="258.7" y1="384.75" x2="258.7" y2="396.15" stroke="#4a4a4a" stroke-width="0.6"/>
<circle cx="258.7" cy="394.55" r="0.9" fill="#333"/>
<line x1="325.3" y1="384.75" x2="325.3" y2="396.15" stroke="#4a4a4a" stroke-width="0.6"/>
<circle cx="325.3" cy="394.55" r="0.9" fill="#333"/>
<text class="d" font-size="9.5" text-anchor="middle" textLength="17.5" lengthAdjust="spacingAndGlyphs" x="87.85" y="392.97">1000</text>
<text class="d" font-size="9.5" text-anchor="middle" textLength="47.5" lengthAdjust="spacingAndGlyphs" x="156.05" y="392.97">1000×(Na-2)</text>
<text class="d" font-size="9.5" text-anchor="middle" textLength="13.5" lengthAdjust="spacingAndGlyphs" x="224.65" y="392.97">972</text>
<text class="d" font-size="9.5" text-anchor="middle" textLength="13.5" lengthAdjust="spacingAndGlyphs" x="292" y="392.97">972</text>
<text class="j" font-size="8.6" textLength="60.5" lengthAdjust="spacingAndGlyphs" x="57.5" y="405.1">柱芯々(1200以下)</text>
<text class="j" font-size="8.6" textLength="60.5" lengthAdjust="spacingAndGlyphs" x="125" y="405.1">柱芯々(1200以下)</text>
<text class="j" font-size="8.6" textLength="60.5" lengthAdjust="spacingAndGlyphs" x="193" y="405.1">柱芯々(1200以下)</text>
<text class="j" font-size="8.6" textLength="60.5" lengthAdjust="spacingAndGlyphs" x="261" y="405.1">柱芯々(1200以下)</text>
<rect x="53" y="280.8" width="274" height="4.5" fill="#fff" stroke="#4a4a4a" stroke-width="0.6"/>
<line x1="55.4" y1="280.8" x2="55.4" y2="285.3" stroke="#4a4a4a" stroke-width="0.5"/>
<line x1="324.6" y1="280.8" x2="324.6" y2="285.3" stroke="#4a4a4a" stroke-width="0.5"/>
<line x1="258" y1="280.8" x2="258" y2="285.3" stroke="#4a4a4a" stroke-width="0.6"/>
<line x1="75.5" y1="278.1" x2="75.5" y2="286.7" stroke="#4a4a4a" stroke-width="0.6"/>
<circle cx="75.5" cy="280.8" r="0.9" fill="#333"/>
<circle cx="75.5" cy="285.3" r="0.9" fill="#333"/>
<text class="d" font-size="9.5" text-anchor="middle" textLength="8.4" lengthAdjust="spacingAndGlyphs" transform="translate(72.2 274.8) rotate(-90)" x="0" y="3.42">70</text>
<line x1="53" y1="298.3" x2="327" y2="298.3" stroke="#4a4a4a" stroke-width="0.6"/>
<circle cx="53" cy="298.3" r="0.9" fill="#333"/>
<circle cx="327" cy="298.3" r="0.9" fill="#333"/>
<line x1="53" y1="296.6" x2="53" y2="315.9" stroke="#4a4a4a" stroke-width="0.6"/>
<line x1="327" y1="296.6" x2="327" y2="315.9" stroke="#4a4a4a" stroke-width="0.6"/>
<text class="d" font-size="9.5" text-anchor="middle" textLength="53.8" lengthAdjust="spacingAndGlyphs" x="189.4" y="295.92">W:L1a+L1b+87</text>
<line x1="55.4" y1="311.3" x2="323.8" y2="311.3" stroke="#4a4a4a" stroke-width="0.6"/>
<circle cx="55.4" cy="311.3" r="0.9" fill="#333"/>
<circle cx="323.8" cy="311.3" r="0.9" fill="#333"/>
<line x1="55.4" y1="309.6" x2="55.4" y2="315.9" stroke="#4a4a4a" stroke-width="0.6"/>
<line x1="323.8" y1="309.6" x2="323.8" y2="315.9" stroke="#4a4a4a" stroke-width="0.6"/>
<line x1="258" y1="305" x2="258" y2="316" stroke="#4a4a4a" stroke-width="0.6"/>
<circle cx="258" cy="311.3" r="0.9" fill="#333"/>
<text class="d" font-size="9.5" text-anchor="middle" textLength="68.5" lengthAdjust="spacingAndGlyphs" x="156.25" y="308.82">L1a:(1000×Na)-59</text>
<text class="d" font-size="9.5" text-anchor="middle" textLength="27.5" lengthAdjust="spacingAndGlyphs" x="290.05" y="309.02">L1b:941</text>
<text class="d" font-size="9.5" text-anchor="middle" textLength="4" lengthAdjust="spacingAndGlyphs" x="263" y="307.92">3</text>
<line x1="257" y1="308.6" x2="266.5" y2="308.6" stroke="#4a4a4a" stroke-width="0.5"/>
<line x1="38" y1="301" x2="53.6" y2="317.4" stroke="#4a4a4a" stroke-width="0.6"/>
<text class="d" font-size="9.4" text-anchor="middle" textLength="14" lengthAdjust="spacingAndGlyphs" transform="translate(46.3 302.3) rotate(45)" x="0" y="3.38">R40</text>
<line x1="75.5" y1="315.9" x2="75.5" y2="329.5" stroke="#4a4a4a" stroke-width="0.6"/>
<circle cx="75.5" cy="315.9" r="0.9" fill="#333"/>
<circle cx="75.5" cy="318.5" r="0.9" fill="#333"/>
<text class="d" font-size="9.5" text-anchor="middle" textLength="8.2" lengthAdjust="spacingAndGlyphs" transform="translate(72.2 324.3) rotate(-90)" x="0" y="3.42">25</text>
<text class="d" font-size="9.5" text-anchor="middle" textLength="12.4" lengthAdjust="spacingAndGlyphs" x="250.3" y="327.92">200</text>
<text class="d" font-size="9.5" text-anchor="middle" textLength="12.2" lengthAdjust="spacingAndGlyphs" x="267" y="327.92">200</text>
<line x1="252.5" y1="330.1" x2="258.1" y2="330.1" stroke="#4a4a4a" stroke-width="0.5"/>
<polyline points="254.1,328.9 252.5,330.1 254.1,331.3" fill="none" stroke="#4a4a4a" stroke-width="0.5"/>
<polyline points="256.5,328.9 258.1,330.1 256.5,331.3" fill="none" stroke="#4a4a4a" stroke-width="0.5"/>
<line x1="259.3" y1="330.1" x2="264.9" y2="330.1" stroke="#4a4a4a" stroke-width="0.5"/>
<polyline points="260.9,328.9 259.3,330.1 260.9,331.3" fill="none" stroke="#4a4a4a" stroke-width="0.5"/>
<polyline points="263.3,328.9 264.9,330.1 263.3,331.3" fill="none" stroke="#4a4a4a" stroke-width="0.5"/>
<line x1="351.9" y1="343.4" x2="465.4" y2="343.4" stroke="#777" stroke-width="0.6"/>
<line x1="351.9" y1="353.8" x2="465.4" y2="353.8" stroke="#777" stroke-width="0.6"/>
<line x1="351.9" y1="363.9" x2="465.4" y2="363.9" stroke="#777" stroke-width="0.6"/>
<line x1="351.9" y1="373.9" x2="465.4" y2="373.9" stroke="#777" stroke-width="0.6"/>
<line x1="351.9" y1="383.8" x2="465.4" y2="383.8" stroke="#777" stroke-width="0.6"/>
<line x1="351.9" y1="343.4" x2="351.9" y2="383.8" stroke="#777" stroke-width="0.6"/>
<line x1="384.3" y1="343.4" x2="384.3" y2="383.8" stroke="#777" stroke-width="0.6"/>
<line x1="441.6" y1="343.4" x2="441.6" y2="383.8" stroke="#777" stroke-width="0.6"/>
<line x1="465.4" y1="343.4" x2="465.4" y2="383.8" stroke="#777" stroke-width="0.6"/>
<text class="t" font-size="8.6" text-anchor="middle" textLength="49.36" lengthAdjust="spacingAndGlyphs" x="412.95" y="352.1">Na(スパン数)</text>
<text class="t" font-size="8.6" text-anchor="middle" textLength="13.33" lengthAdjust="spacingAndGlyphs" x="453.5" y="352.1">L1a</text>
<text class="t" font-size="8.6" text-anchor="middle" textLength="16.51" lengthAdjust="spacingAndGlyphs" x="368.1" y="362.35">W20</text>
<text class="t" font-size="8.6" text-anchor="middle" textLength="4.73" lengthAdjust="spacingAndGlyphs" x="412.95" y="362.35">2</text>
<text class="t" font-size="8.6" text-anchor="middle" textLength="21.24" lengthAdjust="spacingAndGlyphs" x="453.5" y="362.35">1,941</text>
<text class="t" font-size="8.6" text-anchor="middle" textLength="16.51" lengthAdjust="spacingAndGlyphs" x="368.1" y="372.4">W30</text>
<text class="t" font-size="8.6" text-anchor="middle" textLength="4.73" lengthAdjust="spacingAndGlyphs" x="412.95" y="372.4">3</text>
<text class="t" font-size="8.6" text-anchor="middle" textLength="21.24" lengthAdjust="spacingAndGlyphs" x="453.5" y="372.4">2,941</text>
<text class="t" font-size="8.6" text-anchor="middle" textLength="16.51" lengthAdjust="spacingAndGlyphs" x="368.1" y="382.35">W40</text>
<text class="t" font-size="8.6" text-anchor="middle" textLength="4.73" lengthAdjust="spacingAndGlyphs" x="412.95" y="382.35">4</text>
<text class="t" font-size="8.6" text-anchor="middle" textLength="21.24" lengthAdjust="spacingAndGlyphs" x="453.5" y="382.35">3,941</text>
<circle cx="20" cy="425.5" r="4.8" fill="#222"/>
<text class="hs" font-size="11" textLength="145.2" lengthAdjust="spacingAndGlyphs" x="25.8" y="429.46"><tspan class="lb">W20</tspan>以上を直線連結する場合</text>
<text class="n" font-size="8.4" textLength="119.2" lengthAdjust="spacingAndGlyphs" x="177.2" y="429.62">※図はW30+W30の場合です。</text>
<text class="n" font-size="8.4" textLength="160.8" lengthAdjust="spacingAndGlyphs" x="177.2" y="439.82">※笠木カバーの現場切り詰めが必要です。</text>
<rect x="17.5" y="532" width="462.5" height="11.6" fill="#cbcbcb"/>
<line x1="17.5" y1="532" x2="480" y2="532" stroke="#4a4a4a" stroke-width="0.6"/>
<rect x="52.1" y="476.1" width="411.1" height="2.6" fill="#b8b8b8" stroke="#767676" stroke-width="0.6"/>
<rect x="52.1" y="478.7" width="2.4" height="65.3" fill="#e4e4e4" stroke="#767676" stroke-width="0.6"/>
<rect x="120.3" y="478.7" width="2.4" height="65.3" fill="#e4e4e4" stroke="#767676" stroke-width="0.6"/>
<rect x="189.4" y="478.7" width="2.4" height="65.3" fill="#e4e4e4" stroke="#767676" stroke-width="0.6"/>
<rect x="257.1" y="478.7" width="2.4" height="65.3" fill="#e4e4e4" stroke="#767676" stroke-width="0.6"/>
<rect x="323.6" y="478.7" width="2.4" height="65.3" fill="#e4e4e4" stroke="#767676" stroke-width="0.6"/>
<rect x="392.8" y="478.7" width="2.4" height="65.3" fill="#e4e4e4" stroke="#767676" stroke-width="0.6"/>
<rect x="460.8" y="478.7" width="2.4" height="65.3" fill="#e4e4e4" stroke="#767676" stroke-width="0.6"/>
<line x1="47.5" y1="476.1" x2="47.5" y2="563.5" stroke="#4a4a4a" stroke-width="0.6"/>
<line x1="46" y1="476.1" x2="52.1" y2="476.1" stroke="#4a4a4a" stroke-width="0.6"/>
<line x1="46" y1="544" x2="52.1" y2="544" stroke="#4a4a4a" stroke-width="0.6"/>
<circle cx="47.5" cy="476.1" r="0.9" fill="#333"/>
<circle cx="47.5" cy="532" r="0.9" fill="#333"/>
<circle cx="47.5" cy="544" r="0.9" fill="#333"/>
<text class="d" font-size="9.5" text-anchor="middle" textLength="40" lengthAdjust="spacingAndGlyphs" transform="translate(41.9 506.6) rotate(-90)" x="0" y="3.42">H:800 [400]</text>
<text class="d" font-size="8.8" text-anchor="middle" textLength="29" lengthAdjust="spacingAndGlyphs" transform="translate(41.9 549.5) rotate(-90)" x="0" y="3.17">180以上</text>
<rect x="29.7" y="476.7" width="4.4" height="67.9" fill="#fff" stroke="#767676" stroke-width="0.6"/>
<text class="d" font-size="9.5" text-anchor="middle" textLength="8.8" lengthAdjust="spacingAndGlyphs" x="22.2" y="519.72">70</text>
<line x1="17.1" y1="520.7" x2="34.1" y2="520.7" stroke="#4a4a4a" stroke-width="0.6"/>
<circle cx="29.7" cy="520.7" r="0.9" fill="#333"/>
<circle cx="34.1" cy="520.7" r="0.9" fill="#333"/>
<text class="d" font-size="9.2" text-anchor="middle" textLength="9.5" lengthAdjust="spacingAndGlyphs" x="21.35" y="529.71">G.L</text>
<line x1="477.5" y1="478.7" x2="477.5" y2="532" stroke="#4a4a4a" stroke-width="0.6"/>
<line x1="463.2" y1="478.7" x2="479" y2="478.7" stroke="#4a4a4a" stroke-width="0.6"/>
<circle cx="477.5" cy="478.7" r="0.9" fill="#333"/>
<circle cx="477.5" cy="532" r="0.9" fill="#333"/>
<text class="d" font-size="9.5" text-anchor="middle" textLength="33" lengthAdjust="spacingAndGlyphs" transform="translate(470.9 504.7) rotate(-90)" x="0" y="3.42">758 [358]</text>
<text class="d" font-size="9.5" text-anchor="middle" textLength="8" lengthAdjust="spacingAndGlyphs" x="60.4" y="519.82">25</text>
<line x1="52.1" y1="520.8" x2="65.1" y2="520.8" stroke="#4a4a4a" stroke-width="0.6"/>
<circle cx="52.1" cy="520.8" r="0.9" fill="#333"/>
<circle cx="54.5" cy="520.8" r="0.9" fill="#333"/>
<text class="d" font-size="9.5" text-anchor="middle" textLength="8.2" lengthAdjust="spacingAndGlyphs" x="454.1" y="519.82">25</text>
<line x1="449.2" y1="520.8" x2="463.2" y2="520.8" stroke="#4a4a4a" stroke-width="0.6"/>
<circle cx="460.8" cy="520.8" r="0.9" fill="#333"/>
<circle cx="463.2" cy="520.8" r="0.9" fill="#333"/>
<text class="d" font-size="9.5" text-anchor="middle" textLength="24" lengthAdjust="spacingAndGlyphs" x="106.1" y="519.82">23×50</text>
<line x1="93.5" y1="520.8" x2="122.7" y2="520.8" stroke="#4a4a4a" stroke-width="0.6"/>
<circle cx="120.3" cy="520.8" r="0.9" fill="#333"/>
<circle cx="122.7" cy="520.8" r="0.9" fill="#333"/>
<text class="d" font-size="9.5" text-anchor="middle" textLength="24" lengthAdjust="spacingAndGlyphs" x="175.2" y="519.82">23×50</text>
<line x1="162.6" y1="520.8" x2="191.8" y2="520.8" stroke="#4a4a4a" stroke-width="0.6"/>
<circle cx="189.4" cy="520.8" r="0.9" fill="#333"/>
<circle cx="191.8" cy="520.8" r="0.9" fill="#333"/>
<text class="d" font-size="9.5" text-anchor="middle" textLength="24" lengthAdjust="spacingAndGlyphs" x="242.9" y="519.82">23×50</text>
<line x1="230.3" y1="520.8" x2="259.5" y2="520.8" stroke="#4a4a4a" stroke-width="0.6"/>
<circle cx="257.1" cy="520.8" r="0.9" fill="#333"/>
<circle cx="259.5" cy="520.8" r="0.9" fill="#333"/>
<text class="d" font-size="9.5" text-anchor="middle" textLength="24" lengthAdjust="spacingAndGlyphs" x="309.4" y="519.82">23×50</text>
<line x1="296.8" y1="520.8" x2="326" y2="520.8" stroke="#4a4a4a" stroke-width="0.6"/>
<circle cx="323.6" cy="520.8" r="0.9" fill="#333"/>
<circle cx="326" cy="520.8" r="0.9" fill="#333"/>
<text class="d" font-size="9.5" text-anchor="middle" textLength="24" lengthAdjust="spacingAndGlyphs" x="378.6" y="519.82">23×50</text>
<line x1="366" y1="520.8" x2="395.2" y2="520.8" stroke="#4a4a4a" stroke-width="0.6"/>
<circle cx="392.8" cy="520.8" r="0.9" fill="#333"/>
<circle cx="395.2" cy="520.8" r="0.9" fill="#333"/>
<text class="d" font-size="8.6" text-anchor="middle" textLength="12.2" lengthAdjust="spacingAndGlyphs" transform="translate(101.3 539.1) rotate(-90)" x="0" y="3.1">180</text>
<text class="d" font-size="8.4" text-anchor="middle" textLength="15.6" lengthAdjust="spacingAndGlyphs" transform="translate(111.3 544) rotate(-90)" x="0" y="3.02">以上</text>
<line x1="116.3" y1="532" x2="116.3" y2="544.1" stroke="#4a4a4a" stroke-width="0.6"/>
<circle cx="116.3" cy="532" r="0.9" fill="#333"/>
<circle cx="116.3" cy="543.9" r="0.9" fill="#333"/>
<line x1="114.8" y1="543.9" x2="120.3" y2="543.9" stroke="#4a4a4a" stroke-width="0.6"/>
<line x1="53.3" y1="553.8" x2="462" y2="553.8" stroke="#4a4a4a" stroke-width="0.6"/>
<line x1="53.3" y1="544" x2="53.3" y2="555.4" stroke="#4a4a4a" stroke-width="0.6"/>
<circle cx="53.3" cy="553.8" r="0.9" fill="#333"/>
<line x1="121.5" y1="544" x2="121.5" y2="555.4" stroke="#4a4a4a" stroke-width="0.6"/>
<circle cx="121.5" cy="553.8" r="0.9" fill="#333"/>
<line x1="190.6" y1="544" x2="190.6" y2="555.4" stroke="#4a4a4a" stroke-width="0.6"/>
<circle cx="190.6" cy="553.8" r="0.9" fill="#333"/>
<line x1="258.3" y1="544" x2="258.3" y2="555.4" stroke="#4a4a4a" stroke-width="0.6"/>
<circle cx="258.3" cy="553.8" r="0.9" fill="#333"/>
<line x1="324.8" y1="544" x2="324.8" y2="555.4" stroke="#4a4a4a" stroke-width="0.6"/>
<circle cx="324.8" cy="553.8" r="0.9" fill="#333"/>
<line x1="394" y1="544" x2="394" y2="555.4" stroke="#4a4a4a" stroke-width="0.6"/>
<circle cx="394" cy="553.8" r="0.9" fill="#333"/>
<line x1="462" y1="544" x2="462" y2="555.4" stroke="#4a4a4a" stroke-width="0.6"/>
<circle cx="462" cy="553.8" r="0.9" fill="#333"/>
<text class="d" font-size="9.5" text-anchor="middle" textLength="17.5" lengthAdjust="spacingAndGlyphs" x="87.4" y="552.22">1000</text>
<text class="d" font-size="9.5" text-anchor="middle" textLength="47.5" lengthAdjust="spacingAndGlyphs" x="156.05" y="552.22">1000×(Na-2)</text>
<text class="d" font-size="9.5" text-anchor="middle" textLength="13.5" lengthAdjust="spacingAndGlyphs" x="224.45" y="552.22">972</text>
<text class="d" font-size="9.5" text-anchor="middle" textLength="13.5" lengthAdjust="spacingAndGlyphs" x="291.55" y="552.22">972</text>
<text class="d" font-size="9.5" text-anchor="middle" textLength="47.5" lengthAdjust="spacingAndGlyphs" x="359.4" y="552.22">1000×(Nb-2)</text>
<text class="d" font-size="9.5" text-anchor="middle" textLength="17.5" lengthAdjust="spacingAndGlyphs" x="428" y="552.22">1000</text>
<text class="j" font-size="8.6" textLength="60.7" lengthAdjust="spacingAndGlyphs" x="56.3" y="565.1">柱芯々(1200以下)</text>
<text class="j" font-size="8.6" textLength="60.5" lengthAdjust="spacingAndGlyphs" x="124.5" y="565.1">柱芯々(1200以下)</text>
<text class="j" font-size="8.6" textLength="60" lengthAdjust="spacingAndGlyphs" x="192.5" y="565.1">柱芯々(1200以下)</text>
<text class="j" font-size="8.6" textLength="60" lengthAdjust="spacingAndGlyphs" x="260" y="565.1">柱芯々(1200以下)</text>
<text class="j" font-size="8.6" textLength="60.3" lengthAdjust="spacingAndGlyphs" x="328.5" y="565.1">柱芯々(1200以下)</text>
<text class="j" font-size="8.6" textLength="60.5" lengthAdjust="spacingAndGlyphs" x="397" y="565.1">柱芯々(1200以下)</text>
<rect x="51.5" y="443.6" width="412.3" height="4.5" fill="#fff" stroke="#4a4a4a" stroke-width="0.6"/>
<line x1="53.9" y1="443.6" x2="53.9" y2="448.1" stroke="#4a4a4a" stroke-width="0.5"/>
<line x1="461.4" y1="443.6" x2="461.4" y2="448.1" stroke="#4a4a4a" stroke-width="0.5"/>
<line x1="258" y1="443.6" x2="258" y2="448.1" stroke="#4a4a4a" stroke-width="0.6"/>
<line x1="75.5" y1="440.9" x2="75.5" y2="449.5" stroke="#4a4a4a" stroke-width="0.6"/>
<circle cx="75.5" cy="443.6" r="0.9" fill="#333"/>
<circle cx="75.5" cy="448.1" r="0.9" fill="#333"/>
<text class="d" font-size="9.5" text-anchor="middle" textLength="8.4" lengthAdjust="spacingAndGlyphs" transform="translate(72.2 437.6) rotate(-90)" x="0" y="3.42">70</text>
<line x1="52" y1="458.2" x2="463.5" y2="458.2" stroke="#4a4a4a" stroke-width="0.6"/>
<circle cx="52" cy="458.2" r="0.9" fill="#333"/>
<circle cx="463.5" cy="458.2" r="0.9" fill="#333"/>
<line x1="52" y1="456.5" x2="52" y2="476.1" stroke="#4a4a4a" stroke-width="0.6"/>
<line x1="463.5" y1="456.5" x2="463.5" y2="476.1" stroke="#4a4a4a" stroke-width="0.6"/>
<text class="d" font-size="9.5" text-anchor="middle" textLength="53.3" lengthAdjust="spacingAndGlyphs" x="257.15" y="457.72">W:L1a+L1b+87</text>
<line x1="54.4" y1="471.6" x2="460.3" y2="471.6" stroke="#4a4a4a" stroke-width="0.6"/>
<circle cx="54.4" cy="471.6" r="0.9" fill="#333"/>
<circle cx="460.3" cy="471.6" r="0.9" fill="#333"/>
<line x1="54.4" y1="469.9" x2="54.4" y2="476.1" stroke="#4a4a4a" stroke-width="0.6"/>
<line x1="460.3" y1="469.9" x2="460.3" y2="476.1" stroke="#4a4a4a" stroke-width="0.6"/>
<line x1="258" y1="465.3" x2="258" y2="476.3" stroke="#4a4a4a" stroke-width="0.6"/>
<circle cx="258" cy="471.6" r="0.9" fill="#333"/>
<text class="d" font-size="9.5" text-anchor="middle" textLength="68" lengthAdjust="spacingAndGlyphs" x="156" y="469.22">L1a:(1000×Na)-59</text>
<text class="d" font-size="9.5" text-anchor="middle" textLength="68.3" lengthAdjust="spacingAndGlyphs" x="359.65" y="470.02">L1b:(1000×Nb)-59</text>
<text class="d" font-size="9.5" text-anchor="middle" textLength="4" lengthAdjust="spacingAndGlyphs" x="262.5" y="469.02">3</text>
<line x1="256.6" y1="469.8" x2="266" y2="469.8" stroke="#4a4a4a" stroke-width="0.5"/>
<line x1="36.5" y1="461" x2="52.4" y2="477.5" stroke="#4a4a4a" stroke-width="0.6"/>
<text class="d" font-size="9.4" text-anchor="middle" textLength="14" lengthAdjust="spacingAndGlyphs" transform="translate(44.5 462.5) rotate(45)" x="0" y="3.38">R40</text>
<line x1="75.5" y1="476.1" x2="75.5" y2="489.5" stroke="#4a4a4a" stroke-width="0.6"/>
<circle cx="75.5" cy="476.1" r="0.9" fill="#333"/>
<circle cx="75.5" cy="478.7" r="0.9" fill="#333"/>
<text class="d" font-size="9.5" text-anchor="middle" textLength="8" lengthAdjust="spacingAndGlyphs" transform="translate(72.2 484.2) rotate(-90)" x="0" y="3.42">25</text>
<text class="d" font-size="9.5" text-anchor="middle" textLength="12.4" lengthAdjust="spacingAndGlyphs" x="249.9" y="487.92">200</text>
<text class="d" font-size="9.5" text-anchor="middle" textLength="12.2" lengthAdjust="spacingAndGlyphs" x="266.6" y="487.92">200</text>
<line x1="252.1" y1="490.1" x2="257.7" y2="490.1" stroke="#4a4a4a" stroke-width="0.5"/>
<polyline points="253.7,488.9 252.1,490.1 253.7,491.3" fill="none" stroke="#4a4a4a" stroke-width="0.5"/>
<polyline points="256.1,488.9 257.7,490.1 256.1,491.3" fill="none" stroke="#4a4a4a" stroke-width="0.5"/>
<line x1="258.9" y1="490.1" x2="264.5" y2="490.1" stroke="#4a4a4a" stroke-width="0.5"/>
<polyline points="260.5,488.9 258.9,490.1 260.5,491.3" fill="none" stroke="#4a4a4a" stroke-width="0.5"/>
<polyline points="262.9,488.9 264.5,490.1 262.9,491.3" fill="none" stroke="#4a4a4a" stroke-width="0.5"/>
<line x1="489.8" y1="504.7" x2="644.2" y2="504.7" stroke="#777" stroke-width="0.6"/>
<line x1="489.8" y1="514.9" x2="644.2" y2="514.9" stroke="#777" stroke-width="0.6"/>
<line x1="489.8" y1="524.6" x2="644.2" y2="524.6" stroke="#777" stroke-width="0.6"/>
<line x1="489.8" y1="534.3" x2="644.2" y2="534.3" stroke="#777" stroke-width="0.6"/>
<line x1="489.8" y1="544.1" x2="644.2" y2="544.1" stroke="#777" stroke-width="0.6"/>
<line x1="489.8" y1="504.7" x2="489.8" y2="544.1" stroke="#777" stroke-width="0.6"/>
<line x1="521.9" y1="504.7" x2="521.9" y2="544.1" stroke="#777" stroke-width="0.6"/>
<line x1="596.2" y1="504.7" x2="596.2" y2="544.1" stroke="#777" stroke-width="0.6"/>
<line x1="620.5" y1="504.7" x2="620.5" y2="544.1" stroke="#777" stroke-width="0.6"/>
<line x1="644.2" y1="504.7" x2="644.2" y2="544.1" stroke="#777" stroke-width="0.6"/>
<text class="t" font-size="8.6" text-anchor="middle" textLength="63.98" lengthAdjust="spacingAndGlyphs" x="559.05" y="513.3">Na, Nb(スパン数)</text>
<text class="t" font-size="8.6" text-anchor="middle" textLength="13.33" lengthAdjust="spacingAndGlyphs" x="608.35" y="513.3">L1a</text>
<text class="t" font-size="8.6" text-anchor="middle" textLength="13.33" lengthAdjust="spacingAndGlyphs" x="632.35" y="513.3">L1b</text>
<text class="t" font-size="8.6" text-anchor="middle" textLength="16.51" lengthAdjust="spacingAndGlyphs" x="505.85" y="523.25">W20</text>
<text class="t" font-size="8.6" text-anchor="middle" textLength="4.73" lengthAdjust="spacingAndGlyphs" x="559.05" y="523.25">2</text>
<text class="t" font-size="8.6" text-anchor="middle" textLength="21.24" lengthAdjust="spacingAndGlyphs" x="608.35" y="523.25">1,941</text>
<text class="t" font-size="8.6" text-anchor="middle" textLength="21.24" lengthAdjust="spacingAndGlyphs" x="632.35" y="523.25">1,941</text>
<text class="t" font-size="8.6" text-anchor="middle" textLength="16.51" lengthAdjust="spacingAndGlyphs" x="505.85" y="532.95">W30</text>
<text class="t" font-size="8.6" text-anchor="middle" textLength="4.73" lengthAdjust="spacingAndGlyphs" x="559.05" y="532.95">3</text>
<text class="t" font-size="8.6" text-anchor="middle" textLength="21.24" lengthAdjust="spacingAndGlyphs" x="608.35" y="532.95">2,941</text>
<text class="t" font-size="8.6" text-anchor="middle" textLength="21.24" lengthAdjust="spacingAndGlyphs" x="632.35" y="532.95">2,941</text>
<text class="t" font-size="8.6" text-anchor="middle" textLength="16.51" lengthAdjust="spacingAndGlyphs" x="505.85" y="542.7">W40</text>
<text class="t" font-size="8.6" text-anchor="middle" textLength="4.73" lengthAdjust="spacingAndGlyphs" x="559.05" y="542.7">4</text>
<text class="t" font-size="8.6" text-anchor="middle" textLength="21.24" lengthAdjust="spacingAndGlyphs" x="608.35" y="542.7">3,941</text>
<text class="t" font-size="8.6" text-anchor="middle" textLength="21.24" lengthAdjust="spacingAndGlyphs" x="632.35" y="542.7">3,941</text>
<rect x="16.2" y="591" width="12" height="12" fill="#222"/>
<text class="h" font-size="15.5" textLength="105.5" lengthAdjust="spacingAndGlyphs" x="30.2" y="602.58"><tspan class="lb">L</tspan>字連結納まり</text>
<circle cx="18.9" cy="617.7" r="4.7" fill="#222"/>
<text class="hs" font-size="11" textLength="144.8" lengthAdjust="spacingAndGlyphs" x="24.6" y="621.66"><tspan class="lb">W10</tspan>同士を<tspan class="lb">L</tspan>字連結する場合</text>
<text class="n" font-size="8.4" textLength="159.6" lengthAdjust="spacingAndGlyphs" x="15.4" y="632.52">※笠木カバーの現場切り詰めが必要です。</text>
<polygon points="189.5,599.5 194.3,599.5 194.3,667.9 263.8,667.9 263.8,672.6 191,672.6 189.5,671.1" fill="#fff" stroke="#4a4a4a" stroke-width="0.6"/>
<line x1="260.3" y1="667.9" x2="260.3" y2="672.6" stroke="#4a4a4a" stroke-width="0.6"/>
<text class="d" font-size="9.5" text-anchor="middle" textLength="8.2" lengthAdjust="spacingAndGlyphs" x="183.6" y="646.22">70</text>
<line x1="179" y1="647" x2="196.3" y2="647" stroke="#4a4a4a" stroke-width="0.6"/>
<circle cx="189.5" cy="647" r="0.9" fill="#333"/>
<circle cx="194.3" cy="647" r="0.9" fill="#333"/>
<line x1="215.3" y1="655.9" x2="215.3" y2="673.8" stroke="#4a4a4a" stroke-width="0.6"/>
<circle cx="215.3" cy="667.9" r="0.9" fill="#333"/>
<circle cx="215.3" cy="672.6" r="0.9" fill="#333"/>
<text class="d" font-size="9.5" text-anchor="middle" textLength="8.2" lengthAdjust="spacingAndGlyphs" transform="translate(211.8 661.8) rotate(-90)" x="0" y="3.42">70</text>
<line x1="174.5" y1="682.8" x2="190.1" y2="671.4" stroke="#4a4a4a" stroke-width="0.6"/>
<text class="d" font-size="9.4" text-anchor="middle" textLength="14" lengthAdjust="spacingAndGlyphs" transform="translate(178.9 675) rotate(-42)" x="0" y="3.38">R20</text>
<rect x="84.5" y="765.2" width="190.2" height="11.6" fill="#cbcbcb"/>
<line x1="84.5" y1="765.2" x2="274.7" y2="765.2" stroke="#4a4a4a" stroke-width="0.6"/>
<rect x="102.2" y="709.7" width="73.1" height="2.4" fill="#b8b8b8" stroke="#767676" stroke-width="0.6"/>
<rect x="102.2" y="712.1" width="2.3" height="65.1" fill="#e4e4e4" stroke="#767676" stroke-width="0.6"/>
<rect x="162" y="712.3" width="2.2" height="64.9" fill="#e4e4e4" stroke="#767676" stroke-width="0.6"/>
<rect x="169.1" y="712.3" width="4.8" height="64.9" fill="#fff" stroke="#767676" stroke-width="0.6"/>
<text class="d" font-size="9.5" text-anchor="middle" textLength="7.8" lengthAdjust="spacingAndGlyphs" x="165" y="705.92">60</text>
<rect x="162.1" y="706.1" width="7" height="3.6" fill="#d0d0d0" stroke="#777" stroke-width="0.4"/>
<text class="d" font-size="9.5" text-anchor="middle" textLength="12" lengthAdjust="spacingAndGlyphs" x="155" y="719.72">140</text>
<line x1="161.8" y1="712.3" x2="161.8" y2="721.2" stroke="#4a4a4a" stroke-width="0.5"/>
<circle cx="159.4" cy="720.7" r="0.7" fill="#777"/>
<line x1="102.4" y1="686.6" x2="175.3" y2="686.6" stroke="#4a4a4a" stroke-width="0.6"/>
<circle cx="102.4" cy="686.6" r="0.9" fill="#333"/>
<circle cx="175.3" cy="686.6" r="0.9" fill="#333"/>
<line x1="102.4" y1="684.9" x2="102.4" y2="709.7" stroke="#4a4a4a" stroke-width="0.6"/>
<line x1="175.3" y1="684.9" x2="175.3" y2="711.7" stroke="#4a4a4a" stroke-width="0.6"/>
<text class="d" font-size="9.5" text-anchor="middle" textLength="23.6" lengthAdjust="spacingAndGlyphs" x="138.4" y="685.62">1058.3</text>
<line x1="104.4" y1="696.5" x2="169" y2="696.5" stroke="#4a4a4a" stroke-width="0.6"/>
<circle cx="104.4" cy="696.5" r="0.9" fill="#333"/>
<circle cx="169" cy="696.5" r="0.9" fill="#333"/>
<line x1="104.4" y1="694.8" x2="104.4" y2="709.7" stroke="#4a4a4a" stroke-width="0.6"/>
<line x1="169" y1="694.8" x2="169" y2="709.7" stroke="#4a4a4a" stroke-width="0.6"/>
<text class="d" font-size="9.5" text-anchor="middle" textLength="13.4" lengthAdjust="spacingAndGlyphs" x="137" y="696.02">941</text>
<line x1="88.5" y1="694.5" x2="103" y2="710.8" stroke="#4a4a4a" stroke-width="0.6"/>
<text class="d" font-size="9.4" text-anchor="middle" textLength="14" lengthAdjust="spacingAndGlyphs" transform="translate(96.3 695.7) rotate(45)" x="0" y="3.38">R40</text>
<line x1="125" y1="709.7" x2="125" y2="722" stroke="#4a4a4a" stroke-width="0.6"/>
<circle cx="125" cy="709.7" r="0.9" fill="#333"/>
<circle cx="125" cy="712.1" r="0.9" fill="#333"/>
<text class="d" font-size="9.5" text-anchor="middle" textLength="7.8" lengthAdjust="spacingAndGlyphs" transform="translate(121.6 717.1) rotate(-90)" x="0" y="3.42">25</text>
<line x1="97.7" y1="709.7" x2="97.7" y2="801" stroke="#4a4a4a" stroke-width="0.6"/>
<line x1="96.2" y1="709.7" x2="102.2" y2="709.7" stroke="#4a4a4a" stroke-width="0.6"/>
<line x1="96.2" y1="777.2" x2="102.2" y2="777.2" stroke="#4a4a4a" stroke-width="0.6"/>
<circle cx="97.7" cy="709.7" r="0.9" fill="#333"/>
<circle cx="97.7" cy="765.2" r="0.9" fill="#333"/>
<circle cx="97.7" cy="777.2" r="0.9" fill="#333"/>
<text class="d" font-size="9.5" text-anchor="middle" textLength="30.3" lengthAdjust="spacingAndGlyphs" transform="translate(92.4 733.35) rotate(-90)" x="0" y="3.42">800[400]</text>
<text class="d" font-size="8.6" text-anchor="middle" textLength="29.3" lengthAdjust="spacingAndGlyphs" transform="translate(92.4 782.95) rotate(-90)" x="0" y="3.1">180以上</text>
<text class="d" font-size="9.2" text-anchor="middle" textLength="10" lengthAdjust="spacingAndGlyphs" x="89.5" y="763.71">G.L</text>
<text class="d" font-size="9.5" text-anchor="middle" textLength="8" lengthAdjust="spacingAndGlyphs" x="110.2" y="752.72">25</text>
<line x1="102.2" y1="753.6" x2="115" y2="753.6" stroke="#4a4a4a" stroke-width="0.6"/>
<circle cx="102.2" cy="753.6" r="0.9" fill="#333"/>
<circle cx="104.5" cy="753.6" r="0.9" fill="#333"/>
<text class="d" font-size="9.5" text-anchor="middle" textLength="8" lengthAdjust="spacingAndGlyphs" x="156.5" y="752.72">23</text>
<line x1="151.8" y1="753.6" x2="164.2" y2="753.6" stroke="#4a4a4a" stroke-width="0.6"/>
<circle cx="162" cy="753.6" r="0.9" fill="#333"/>
<circle cx="164.2" cy="753.6" r="0.9" fill="#333"/>
<text class="d" font-size="9.5" text-anchor="middle" textLength="7.8" lengthAdjust="spacingAndGlyphs" x="181.1" y="752.72">70</text>
<line x1="169.1" y1="753.6" x2="186" y2="753.6" stroke="#4a4a4a" stroke-width="0.6"/>
<circle cx="169.1" cy="753.6" r="0.9" fill="#333"/>
<circle cx="173.9" cy="753.6" r="0.9" fill="#333"/>
<line x1="103.2" y1="782.9" x2="163.1" y2="782.9" stroke="#4a4a4a" stroke-width="0.6"/>
<circle cx="103.2" cy="782.9" r="0.9" fill="#333"/>
<circle cx="163.1" cy="782.9" r="0.9" fill="#333"/>
<line x1="103.2" y1="777.2" x2="103.2" y2="784.5" stroke="#4a4a4a" stroke-width="0.6"/>
<line x1="163.1" y1="777.2" x2="163.1" y2="784.5" stroke="#4a4a4a" stroke-width="0.6"/>
<text class="d" font-size="9.5" text-anchor="middle" textLength="20" lengthAdjust="spacingAndGlyphs" x="132.7" y="781.72">910.5</text>
<text class="j" font-size="8.6" text-anchor="middle" textLength="24" lengthAdjust="spacingAndGlyphs" x="132.7" y="791.8">柱芯々</text>
<line x1="103.2" y1="802.8" x2="173.4" y2="802.8" stroke="#4a4a4a" stroke-width="0.6"/>
<circle cx="103.2" cy="802.8" r="0.9" fill="#333"/>
<circle cx="173.4" cy="802.8" r="0.9" fill="#333"/>
<line x1="103.2" y1="784.5" x2="103.2" y2="804.4" stroke="#4a4a4a" stroke-width="0.6"/>
<line x1="173.4" y1="777.2" x2="173.4" y2="804.4" stroke="#4a4a4a" stroke-width="0.6"/>
<text class="d" font-size="9.5" text-anchor="middle" textLength="23.6" lengthAdjust="spacingAndGlyphs" x="138.4" y="801.92">1010.8</text>
<text class="j" font-size="8.6" text-anchor="middle" textLength="24" lengthAdjust="spacingAndGlyphs" x="137.4" y="812.1">柱芯々</text>
<rect x="189.6" y="709.7" width="74.2" height="2.4" fill="#b8b8b8" stroke="#767676" stroke-width="0.6"/>
<rect x="189.7" y="712.1" width="4.6" height="65.1" fill="#fff" stroke="#767676" stroke-width="0.6"/>
<rect x="261.4" y="712.1" width="2.4" height="65.1" fill="#e4e4e4" stroke="#767676" stroke-width="0.6"/>
<line x1="189.6" y1="686.6" x2="263.8" y2="686.6" stroke="#4a4a4a" stroke-width="0.6"/>
<circle cx="189.6" cy="686.6" r="0.9" fill="#333"/>
<circle cx="263.8" cy="686.6" r="0.9" fill="#333"/>
<line x1="189.6" y1="684.9" x2="189.6" y2="709.7" stroke="#4a4a4a" stroke-width="0.6"/>
<line x1="263.8" y1="684.9" x2="263.8" y2="709.7" stroke="#4a4a4a" stroke-width="0.6"/>
<text class="d" font-size="9.5" text-anchor="middle" textLength="23.6" lengthAdjust="spacingAndGlyphs" x="226.5" y="685.62">1058.3</text>
<line x1="194.3" y1="696.5" x2="260.5" y2="696.5" stroke="#4a4a4a" stroke-width="0.6"/>
<circle cx="194.3" cy="696.5" r="0.9" fill="#333"/>
<circle cx="260.5" cy="696.5" r="0.9" fill="#333"/>
<line x1="194.3" y1="694.8" x2="194.3" y2="709.7" stroke="#4a4a4a" stroke-width="0.6"/>
<line x1="260.5" y1="694.8" x2="260.5" y2="709.7" stroke="#4a4a4a" stroke-width="0.6"/>
<text class="d" font-size="9.5" text-anchor="middle" textLength="13.4" lengthAdjust="spacingAndGlyphs" x="227" y="696.02">941</text>
<line x1="240" y1="709.7" x2="240" y2="722" stroke="#4a4a4a" stroke-width="0.6"/>
<circle cx="240" cy="709.7" r="0.9" fill="#333"/>
<circle cx="240" cy="712.1" r="0.9" fill="#333"/>
<text class="d" font-size="9.5" text-anchor="middle" textLength="7.8" lengthAdjust="spacingAndGlyphs" transform="translate(236.6 717.1) rotate(-90)" x="0" y="3.42">25</text>
<text class="d" font-size="9.5" text-anchor="middle" textLength="8.4" lengthAdjust="spacingAndGlyphs" x="201" y="743.42">70</text>
<line x1="189.7" y1="744.6" x2="206" y2="744.6" stroke="#4a4a4a" stroke-width="0.6"/>
<circle cx="189.7" cy="744.6" r="0.9" fill="#333"/>
<circle cx="194.3" cy="744.6" r="0.9" fill="#333"/>
<text class="d" font-size="9.5" text-anchor="middle" textLength="8.4" lengthAdjust="spacingAndGlyphs" x="201" y="752.72">50</text>
<line x1="189.7" y1="753.6" x2="206" y2="753.6" stroke="#4a4a4a" stroke-width="0.6"/>
<circle cx="190.8" cy="753.6" r="0.9" fill="#333"/>
<circle cx="193.2" cy="753.6" r="0.9" fill="#333"/>
<text class="d" font-size="9.5" text-anchor="middle" textLength="8" lengthAdjust="spacingAndGlyphs" x="255" y="752.72">25</text>
<line x1="250.2" y1="753.6" x2="263.8" y2="753.6" stroke="#4a4a4a" stroke-width="0.6"/>
<circle cx="261.4" cy="753.6" r="0.9" fill="#333"/>
<circle cx="263.8" cy="753.6" r="0.9" fill="#333"/>
<line x1="273.7" y1="712.1" x2="273.7" y2="765.2" stroke="#4a4a4a" stroke-width="0.6"/>
<line x1="263.8" y1="712.1" x2="275.2" y2="712.1" stroke="#4a4a4a" stroke-width="0.6"/>
<circle cx="273.7" cy="712.1" r="0.9" fill="#333"/>
<circle cx="273.7" cy="765.2" r="0.9" fill="#333"/>
<text class="d" font-size="9.5" text-anchor="middle" textLength="31.4" lengthAdjust="spacingAndGlyphs" transform="translate(268.6 736.9) rotate(-90)" x="0" y="3.42">758[358]</text>
<line x1="192.2" y1="782.9" x2="262.7" y2="782.9" stroke="#4a4a4a" stroke-width="0.6"/>
<circle cx="192.2" cy="782.9" r="0.9" fill="#333"/>
<circle cx="262.7" cy="782.9" r="0.9" fill="#333"/>
<line x1="192.2" y1="777.2" x2="192.2" y2="784.5" stroke="#4a4a4a" stroke-width="0.6"/>
<line x1="262.7" y1="777.2" x2="262.7" y2="784.5" stroke="#4a4a4a" stroke-width="0.6"/>
<text class="d" font-size="9.5" text-anchor="middle" textLength="23.6" lengthAdjust="spacingAndGlyphs" x="227.4" y="781.72">1010.8</text>
<text class="j" font-size="8.6" text-anchor="middle" textLength="24" lengthAdjust="spacingAndGlyphs" x="227" y="791.4">柱芯々</text>
<circle cx="307" cy="617.6" r="4.4" fill="#222"/>
<text class="hs" font-size="11" textLength="167.3" lengthAdjust="spacingAndGlyphs" x="312.4" y="621.56">直線連結部付近の中間柱について</text>
<text class="n" font-size="8.4" textLength="218.9" lengthAdjust="spacingAndGlyphs" x="301.7" y="632.02">※笠木連結部中心より200mmの範囲で移動が可能です。</text>
<text class="n" font-size="8.8" textLength="34" lengthAdjust="spacingAndGlyphs" x="429.7" y="642.87">連結継手</text>
<text class="n" font-size="8.8" textLength="34.6" lengthAdjust="spacingAndGlyphs" x="428.6" y="653.07">(標準用)</text>
<text class="n" font-size="8.8" textLength="16.6" lengthAdjust="spacingAndGlyphs" x="398" y="659.57">笠木</text>
<text class="n" font-size="8.8" textLength="16.7" lengthAdjust="spacingAndGlyphs" x="470.8" y="659.57">笠木</text>
<line x1="383.2" y1="664.4" x2="469.7" y2="664.4" stroke="#484848" stroke-width="0.6"/>
<line x1="392.5" y1="666" x2="396.5" y2="661.5" stroke="#484848" stroke-width="0.6"/>
<line x1="465.5" y1="666" x2="469.5" y2="661.5" stroke="#484848" stroke-width="0.6"/>
<line x1="376.8" y1="674.2" x2="470.8" y2="674.2" stroke="#484848" stroke-width="0.6"/>
<line x1="376.8" y1="678.1" x2="470.8" y2="678.1" stroke="#484848" stroke-width="0.6"/>
<line x1="376.8" y1="676.1" x2="470.8" y2="676.1" stroke="#aaa" stroke-width="0.5"/>
<path d="M431,663.5 C428,667 426.5,670 425,677" fill="none" stroke="#222" stroke-width="1.3"/>
<line x1="390.8" y1="678.1" x2="390.8" y2="720" stroke="#666" stroke-width="0.6" stroke-dasharray="2.6 1.8"/>
<line x1="397.3" y1="678.1" x2="397.3" y2="720" stroke="#666" stroke-width="0.6" stroke-dasharray="2.6 1.8"/>
<line x1="456.8" y1="678.1" x2="456.8" y2="720" stroke="#666" stroke-width="0.6" stroke-dasharray="2.6 1.8"/>
<line x1="461.2" y1="678.1" x2="461.2" y2="720" stroke="#666" stroke-width="0.6" stroke-dasharray="2.6 1.8"/>
<line x1="394" y1="666" x2="394" y2="682" stroke="#777" stroke-width="0.5" stroke-dasharray="3 1 1 1"/>
<line x1="458.9" y1="666" x2="458.9" y2="682" stroke="#777" stroke-width="0.5" stroke-dasharray="3 1 1 1"/>
<line x1="423.2" y1="678.1" x2="423.2" y2="720" stroke="#484848" stroke-width="0.6"/>
<line x1="428.6" y1="678.1" x2="428.6" y2="720" stroke="#484848" stroke-width="0.6"/>
<line x1="425.3" y1="678.1" x2="425.3" y2="720" stroke="#777" stroke-width="0.5"/>
<line x1="426.6" y1="678.1" x2="426.6" y2="720" stroke="#999" stroke-width="0.5" stroke-dasharray="2 1.5"/>
<line x1="349.7" y1="696.4" x2="490.3" y2="696.4" stroke="#484848" stroke-width="0.6"/>
<line x1="380.4" y1="698.3" x2="384.8" y2="693.6" stroke="#333" stroke-width="0.7"/>
<line x1="412.8" y1="698.3" x2="417.2" y2="693.6" stroke="#333" stroke-width="0.7"/>
<line x1="445.2" y1="698.3" x2="449.6" y2="693.6" stroke="#333" stroke-width="0.7"/>
<circle cx="394" cy="696.4" r="0.7" fill="#333"/>
<circle cx="425.9" cy="696.4" r="0.7" fill="#333"/>
<circle cx="458.9" cy="696.4" r="0.7" fill="#333"/>
<text class="n" font-size="8.8" textLength="22.8" lengthAdjust="spacingAndGlyphs" x="354" y="693.07">柱芯々</text>
<text class="n" font-size="8.8" textLength="23" lengthAdjust="spacingAndGlyphs" x="465" y="693.07">柱芯々</text>
<text class="d" font-size="9" text-anchor="middle" textLength="28.1" lengthAdjust="spacingAndGlyphs" x="363.75" y="705.64">1200以下</text>
<text class="d" font-size="9" text-anchor="middle" textLength="23.2" lengthAdjust="spacingAndGlyphs" x="394.4" y="705.64">200以下</text>
<text class="d" font-size="9" text-anchor="middle" textLength="24.3" lengthAdjust="spacingAndGlyphs" x="427.85" y="705.64">200以下</text>
<text class="d" font-size="9" text-anchor="middle" textLength="28.1" lengthAdjust="spacingAndGlyphs" x="476.25" y="705.64">1200以下</text>
<text class="n" font-size="8.8" textLength="25.3" lengthAdjust="spacingAndGlyphs" x="432.5" y="729.37">中間柱</text>
<line x1="426.5" y1="711.5" x2="432.5" y2="722.5" stroke="#484848" stroke-width="0.6"/>
<circle cx="307" cy="755.5" r="4.4" fill="#222"/>
<text class="hs" font-size="11" textLength="163.6" lengthAdjust="spacingAndGlyphs" x="312.4" y="759.46"><tspan class="lb">L</tspan>字連結部付近の中間柱について</text>
<text class="n" font-size="8.4" textLength="257.5" lengthAdjust="spacingAndGlyphs" x="301.7" y="770.22">※笠木のL字連結側の端部より60〜200mmの間に少なくとも1本必要です。</text>
<line x1="382.7" y1="784.6" x2="432.3" y2="798.5" stroke="#484848" stroke-width="0.7"/>
<line x1="369.5" y1="787.9" x2="432.3" y2="805" stroke="#484848" stroke-width="0.7"/>
<line x1="369.5" y1="791.1" x2="432.3" y2="808.2" stroke="#484848" stroke-width="0.7"/>
<line x1="432.3" y1="798.5" x2="481.2" y2="784.7" stroke="#484848" stroke-width="0.7"/>
<line x1="432.3" y1="805" x2="495.4" y2="788.1" stroke="#484848" stroke-width="0.7"/>
<line x1="432.3" y1="808.2" x2="496" y2="791.5" stroke="#484848" stroke-width="0.7"/>
<line x1="432.3" y1="805" x2="432.3" y2="808.2" stroke="#484848" stroke-width="0.7"/>
<line x1="420.4" y1="801.7" x2="445.3" y2="801.7" stroke="#484848" stroke-width="0.5"/>
<line x1="432.3" y1="798.5" x2="445.3" y2="801.7" stroke="#484848" stroke-width="0.5"/>
<line x1="432.3" y1="798.5" x2="420.4" y2="801.7" stroke="#484848" stroke-width="0.5"/>
<line x1="420.4" y1="801.7" x2="420.4" y2="804.6" stroke="#484848" stroke-width="0.5"/>
<rect x="401" y="800" width="3.4" height="39.4" fill="#b4b4b4" stroke="#484848" stroke-width="0.6"/>
<line x1="402.7" y1="800.5" x2="402.7" y2="839" stroke="#888" stroke-width="1.6" stroke-dasharray="0.9 0.9"/>
<line x1="408.4" y1="795.3" x2="408.4" y2="839.4" stroke="#777" stroke-width="0.5" stroke-dasharray="2.2 1.6"/>
<line x1="412.2" y1="802.8" x2="412.2" y2="839" stroke="#777" stroke-width="0.5" stroke-dasharray="5 1.4 1 1.4"/>
<line x1="452.8" y1="803" x2="452.8" y2="835" stroke="#777" stroke-width="0.5" stroke-dasharray="2.2 1.6"/>
<line x1="461" y1="800.5" x2="461" y2="839" stroke="#777" stroke-width="0.5" stroke-dasharray="2.2 1.6"/>
<line x1="463.1" y1="800" x2="463.1" y2="839" stroke="#777" stroke-width="0.5" stroke-dasharray="2.2 1.6"/>
<line x1="330.4" y1="826.8" x2="402.4" y2="838.6" stroke="#484848" stroke-width="0.6"/>
<line x1="405.02" y1="838.92" x2="440.4" y2="847.43" stroke="#484848" stroke-width="0.7"/>
<line x1="440.4" y1="847.4" x2="514" y2="831.6" stroke="#484848" stroke-width="0.6"/>
<line x1="379.86" y1="806.38" x2="416.75" y2="803.35" stroke="#484848" stroke-width="0.7"/>
<circle cx="379.86" cy="806.38" r="0.8" fill="#333"/>
<line x1="398.78" y1="811.3" x2="401.05" y2="804.49" stroke="#484848" stroke-width="0.5"/>
<text class="i" font-size="8.8" text-anchor="middle" textLength="30" lengthAdjust="spacingAndGlyphs" transform="translate(380.4 811.8) rotate(8)" x="0" y="3.17">60〜200</text>
<text class="n" font-size="8.8" textLength="16.8" lengthAdjust="spacingAndGlyphs" x="405.2" y="785.77">笠木</text>
<text class="n" font-size="8.8" textLength="16.9" lengthAdjust="spacingAndGlyphs" x="443.6" y="787.87">笠木</text>
<line x1="411" y1="786.5" x2="407.5" y2="791.5" stroke="#484848" stroke-width="0.6"/>
<line x1="452" y1="788.5" x2="455.5" y2="793" stroke="#484848" stroke-width="0.6"/>
<text class="n" font-size="8.8" textLength="34.1" lengthAdjust="spacingAndGlyphs" x="467.9" y="817.07">連結継手</text>
<text class="n" font-size="8.8" textLength="28.7" lengthAdjust="spacingAndGlyphs" x="467.9" y="826.17">(L字用)</text>
<line x1="467.4" y1="813" x2="438.4" y2="806.4" stroke="#484848" stroke-width="0.6"/>
<text class="i" font-size="8.6" text-anchor="middle" textLength="62" lengthAdjust="spacingAndGlyphs" transform="translate(365 836.8) rotate(9.7)" x="0" y="3.1">柱芯々1200以下</text>
<text class="i" font-size="8.6" text-anchor="middle" textLength="63" lengthAdjust="spacingAndGlyphs" transform="translate(477.7 847.2) rotate(-14.5)" x="0" y="3.1">柱芯々1200以下</text>
<text class="n" font-size="8.8" textLength="24.3" lengthAdjust="spacingAndGlyphs" x="411" y="860.17">中間柱</text>
<text class="n" font-size="8.8" textLength="77.9" lengthAdjust="spacingAndGlyphs" x="409.3" y="869.97">(少なくとも1本必要)</text>
<line x1="418.2" y1="852.4" x2="412.8" y2="833.5" stroke="#484848" stroke-width="0.6"/>
<line x1="433" y1="851" x2="453.4" y2="828" stroke="#484848" stroke-width="0.6"/>
<circle cx="573.4" cy="617.5" r="4.9" fill="#222"/>
<text class="h" font-size="11.5" textLength="56" lengthAdjust="spacingAndGlyphs" x="579.5" y="621.64">各部材寸法</text>
<text class="j" font-size="8.8" textLength="54.2" lengthAdjust="spacingAndGlyphs" x="644" y="621.37">( )内は断面積</text>
<circle cx="583.7" cy="634" r="3.3" fill="#222"/>
<text class="j" font-size="8.8" textLength="17.4" lengthAdjust="spacingAndGlyphs" x="587.6" y="637.17">笠木</text>
<line x1="602.6" y1="648.2" x2="651.7" y2="648.2" stroke="#4a4a4a" stroke-width="0.6"/>
<circle cx="602.6" cy="648.2" r="0.9" fill="#333"/>
<circle cx="651.7" cy="648.2" r="0.9" fill="#333"/>
<line x1="602.6" y1="646.5" x2="602.6" y2="655.5" stroke="#4a4a4a" stroke-width="0.6"/>
<line x1="651.7" y1="646.5" x2="651.7" y2="655.5" stroke="#4a4a4a" stroke-width="0.6"/>
<text class="d" font-size="9.5" text-anchor="middle" textLength="9" lengthAdjust="spacingAndGlyphs" x="626.9" y="646.72">70</text>
<polyline points="602.8,672.4 602.8,655.2 651.8,655.2 651.8,672.4" fill="none" stroke="#444" stroke-width="0.7"/>
<polyline points="604.2,672.4 604.2,656.6 650.4,656.6 650.4,672.4" fill="none" stroke="#888" stroke-width="0.5"/>
<line x1="602.8" y1="672.4" x2="609.3" y2="672.4" stroke="#444" stroke-width="0.6"/>
<line x1="646.6" y1="672.4" x2="651.8" y2="672.4" stroke="#444" stroke-width="0.6"/>
<polyline points="609.3,670.8 611.1,670.8 611.1,664.3 624.25,664.3 624.25,662.7 631.65,662.7 631.65,664.3 644.8,664.3 644.8,670.8 646.6,670.8" fill="none" stroke="#4a4a4a" stroke-width="0.6"/>
<polyline points="612.9,670.8 612.9,666.3 643,666.3 643,670.8" fill="none" stroke="#666" stroke-width="0.5"/>
<line x1="609.3" y1="670.8" x2="612.9" y2="670.8" stroke="#4a4a4a" stroke-width="0.6"/>
<line x1="643" y1="670.8" x2="646.6" y2="670.8" stroke="#4a4a4a" stroke-width="0.6"/>
<line x1="610.2" y1="670.8" x2="610.2" y2="672.4" stroke="#4a4a4a" stroke-width="0.5"/>
<line x1="645.7" y1="670.8" x2="645.7" y2="672.4" stroke="#4a4a4a" stroke-width="0.5"/>
<line x1="626.15" y1="664.7" x2="626.15" y2="668.3" stroke="#666" stroke-width="0.5"/>
<line x1="629.75" y1="664.7" x2="629.75" y2="668.3" stroke="#666" stroke-width="0.5"/>
<line x1="626.15" y1="668.3" x2="629.75" y2="668.3" stroke="#666" stroke-width="0.5"/>
<line x1="596" y1="654.3" x2="596" y2="674.2" stroke="#4a4a4a" stroke-width="0.6"/>
<circle cx="596" cy="655.5" r="0.9" fill="#333"/>
<circle cx="596" cy="673" r="0.9" fill="#333"/>
<line x1="594.8" y1="655.5" x2="602.6" y2="655.5" stroke="#4a4a4a" stroke-width="0.6"/>
<line x1="594.8" y1="673" x2="602.6" y2="673" stroke="#4a4a4a" stroke-width="0.6"/>
<text class="d" font-size="9.5" text-anchor="middle" textLength="9.2" lengthAdjust="spacingAndGlyphs" transform="translate(590.4 664.25) rotate(-90)" x="0" y="3.42">25</text>
<text class="j" font-size="8.8" textLength="17" lengthAdjust="spacingAndGlyphs" x="658.5" y="660.77">笠木</text>
<line x1="657.3" y1="659.8" x2="651.4" y2="664.6" stroke="#484848" stroke-width="0.6"/>
<text class="d2" font-size="8.8" textLength="34.6" lengthAdjust="spacingAndGlyphs" x="659.2" y="670.77">(355mm²)</text>
<text class="d2" font-size="8.8" textLength="73.4" lengthAdjust="spacingAndGlyphs" x="600.9" y="686.37">笠木カバー(74mm²)</text>
<line x1="630.5" y1="673.2" x2="628" y2="679" stroke="#484848" stroke-width="0.6"/>
<circle cx="575.5" cy="707.3" r="3.3" fill="#222"/>
<text class="j" font-size="8.8" textLength="17.1" lengthAdjust="spacingAndGlyphs" x="579.4" y="710.47">笠木</text>
<text class="n" font-size="8.8" textLength="128" lengthAdjust="spacingAndGlyphs" x="580" y="720.17">(ＬＥＤ照明【オプション】取付の場合)</text>
<line x1="602.6" y1="733.6" x2="651.7" y2="733.6" stroke="#4a4a4a" stroke-width="0.6"/>
<circle cx="602.6" cy="733.6" r="0.9" fill="#333"/>
<circle cx="651.7" cy="733.6" r="0.9" fill="#333"/>
<line x1="602.6" y1="731.9" x2="602.6" y2="740.9" stroke="#4a4a4a" stroke-width="0.6"/>
<line x1="651.7" y1="731.9" x2="651.7" y2="740.9" stroke="#4a4a4a" stroke-width="0.6"/>
<text class="d" font-size="9.5" text-anchor="middle" textLength="9" lengthAdjust="spacingAndGlyphs" x="626.9" y="732.12">70</text>
<polyline points="602.8,758 602.8,740.8 651.8,740.8 651.8,758" fill="none" stroke="#444" stroke-width="0.7"/>
<polyline points="604.2,758 604.2,742.2 650.4,742.2 650.4,758" fill="none" stroke="#888" stroke-width="0.5"/>
<line x1="602.8" y1="758" x2="609.3" y2="758" stroke="#444" stroke-width="0.6"/>
<line x1="646.6" y1="758" x2="651.8" y2="758" stroke="#444" stroke-width="0.6"/>
<polyline points="609.3,756.2 611.1,756.2 611.1,749.7 624.25,749.7 624.25,748.1 631.65,748.1 631.65,749.7 644.8,749.7 644.8,756.2 646.6,756.2" fill="none" stroke="#4a4a4a" stroke-width="0.6"/>
<polyline points="612.9,756.2 612.9,751.7 643,751.7 643,756.2" fill="none" stroke="#666" stroke-width="0.5"/>
<line x1="609.3" y1="756.2" x2="612.9" y2="756.2" stroke="#4a4a4a" stroke-width="0.6"/>
<line x1="643" y1="756.2" x2="646.6" y2="756.2" stroke="#4a4a4a" stroke-width="0.6"/>
<line x1="610.2" y1="756.2" x2="610.2" y2="757.8" stroke="#4a4a4a" stroke-width="0.5"/>
<line x1="645.7" y1="756.2" x2="645.7" y2="757.8" stroke="#4a4a4a" stroke-width="0.5"/>
<path d="M623.2,755 L623.2,751.2 Q623.2,748 627.5,748 Q631.8,748 631.8,751.2 L631.8,755 Z" fill="#fff" stroke="#444" stroke-width="0.6"/>
<circle cx="625.6" cy="752" r="0.6" fill="#555"/>
<circle cx="629.4" cy="752" r="0.6" fill="#555"/>
<path d="M622.6,754.6 L632.4,754.6 L633.6,760.4 L621.4,760.4 Z" fill="#4a4a4a" stroke="#333" stroke-width="0.4"/>
<path d="M624.5,757 L627.5,755.6 L630.5,757" fill="none" stroke="#ddd" stroke-width="0.5"/>
<line x1="596" y1="739.7" x2="596" y2="759.6" stroke="#4a4a4a" stroke-width="0.6"/>
<circle cx="596" cy="740.9" r="0.9" fill="#333"/>
<circle cx="596" cy="758.4" r="0.9" fill="#333"/>
<line x1="594.8" y1="740.9" x2="602.6" y2="740.9" stroke="#4a4a4a" stroke-width="0.6"/>
<line x1="594.8" y1="758.4" x2="602.6" y2="758.4" stroke="#4a4a4a" stroke-width="0.6"/>
<text class="d" font-size="9.5" text-anchor="middle" textLength="9.2" lengthAdjust="spacingAndGlyphs" transform="translate(590.4 749.65) rotate(-90)" x="0" y="3.42">25</text>
<line x1="596" y1="758.4" x2="596" y2="772" stroke="#4a4a4a" stroke-width="0.6"/>
<circle cx="596" cy="762.3" r="0.9" fill="#333"/>
<line x1="594.8" y1="762.3" x2="622" y2="762.3" stroke="#4a4a4a" stroke-width="0.5"/>
<text class="d" font-size="9.5" text-anchor="middle" textLength="10.8" lengthAdjust="spacingAndGlyphs" transform="translate(590.4 767.6) rotate(-90)" x="0" y="3.42">5.5</text>
<line x1="620.3" y1="760.8" x2="620.3" y2="770.5" stroke="#4a4a4a" stroke-width="0.5" stroke-dasharray="1.5 1"/>
<line x1="633.6" y1="760.8" x2="633.6" y2="770.5" stroke="#4a4a4a" stroke-width="0.5" stroke-dasharray="1.5 1"/>
<line x1="620.3" y1="770.3" x2="633.6" y2="770.3" stroke="#4a4a4a" stroke-width="0.5"/>
<text class="d" font-size="9" text-anchor="middle" textLength="7.4" lengthAdjust="spacingAndGlyphs" x="626.9" y="769.04">17</text>
<text class="d2" font-size="8.8" textLength="34.8" lengthAdjust="spacingAndGlyphs" x="641.5" y="769.37">LED照明</text>
<line x1="633" y1="759.6" x2="639.8" y2="765.7" stroke="#484848" stroke-width="0.6"/>
<text class="d2" font-size="8.8" textLength="104.6" lengthAdjust="spacingAndGlyphs" x="589.2" y="782.17">照明用笠木カバー(100mm²)</text>
<line x1="619.8" y1="759.8" x2="608.6" y2="775.2" stroke="#484848" stroke-width="0.6"/>
<text class="j" font-size="8.8" textLength="17" lengthAdjust="spacingAndGlyphs" x="658.5" y="743.27">笠木</text>
<line x1="657.3" y1="742.4" x2="651.4" y2="748" stroke="#484848" stroke-width="0.6"/>
<text class="d2" font-size="8.8" textLength="34.6" lengthAdjust="spacingAndGlyphs" x="659.2" y="754.97">(355mm²)</text>
<circle cx="583.5" cy="804.2" r="3.3" fill="#222"/>
<text class="j" font-size="8.8" textLength="26.6" lengthAdjust="spacingAndGlyphs" x="587.4" y="807.37">端部柱</text>
<line x1="602.6" y1="819.3" x2="652" y2="819.3" stroke="#4a4a4a" stroke-width="0.6"/>
<circle cx="602.6" cy="819.3" r="0.9" fill="#333"/>
<circle cx="652" cy="819.3" r="0.9" fill="#333"/>
<line x1="602.6" y1="817.6" x2="602.6" y2="826.1" stroke="#4a4a4a" stroke-width="0.6"/>
<line x1="652" y1="817.6" x2="652" y2="826.1" stroke="#4a4a4a" stroke-width="0.6"/>
<text class="d" font-size="9.5" text-anchor="middle" textLength="9" lengthAdjust="spacingAndGlyphs" x="627.5" y="818.22">70</text>
<rect x="602.6" y="826.1" width="49.4" height="17.5" fill="#fff" stroke="#444" stroke-width="0.7"/>
<rect x="604.2" y="827.7" width="46.2" height="14.3" fill="none" stroke="#888" stroke-width="0.5"/>
<path d="M609.3,832.7 a2.3,2.3 0 1 1 0,4.2" fill="none" stroke="#444" stroke-width="0.6"/>
<circle cx="609.9" cy="834.8" r="0.9" fill="#fff"/>
<circle cx="609.9" cy="834.8" r="1" fill="none" stroke="#444" stroke-width="0.5"/>
<line x1="609.3" y1="832.7" x2="604.5" y2="832.7" stroke="#444" stroke-width="0.5"/>
<line x1="609.3" y1="836.9" x2="604.5" y2="836.9" stroke="#444" stroke-width="0.5"/>
<path d="M645.5,832.7 a2.3,2.3 0 1 0 0,4.2" fill="none" stroke="#444" stroke-width="0.6"/>
<circle cx="644.9" cy="834.8" r="0.9" fill="#fff"/>
<circle cx="644.9" cy="834.8" r="1" fill="none" stroke="#444" stroke-width="0.5"/>
<line x1="645.5" y1="832.7" x2="650.3" y2="832.7" stroke="#444" stroke-width="0.5"/>
<line x1="645.5" y1="836.9" x2="650.3" y2="836.9" stroke="#444" stroke-width="0.5"/>
<line x1="596" y1="824.9" x2="596" y2="844.8" stroke="#4a4a4a" stroke-width="0.6"/>
<circle cx="596" cy="826.1" r="0.9" fill="#333"/>
<circle cx="596" cy="843.6" r="0.9" fill="#333"/>
<line x1="594.8" y1="826.1" x2="602.6" y2="826.1" stroke="#4a4a4a" stroke-width="0.6"/>
<line x1="594.8" y1="843.6" x2="602.6" y2="843.6" stroke="#4a4a4a" stroke-width="0.6"/>
<text class="d" font-size="9.5" text-anchor="middle" textLength="9.2" lengthAdjust="spacingAndGlyphs" transform="translate(590.4 834.85) rotate(-90)" x="0" y="3.42">25</text>
<text class="j" font-size="8.8" textLength="26" lengthAdjust="spacingAndGlyphs" x="658.5" y="832.17">端部柱</text>
<line x1="657" y1="831" x2="651.6" y2="836.6" stroke="#484848" stroke-width="0.6"/>
<text class="d2" font-size="8.8" textLength="34.2" lengthAdjust="spacingAndGlyphs" x="659.2" y="843.17">(448mm²)</text>
<circle cx="583.5" cy="863.8" r="3.3" fill="#222"/>
<text class="j" font-size="8.8" textLength="26.6" lengthAdjust="spacingAndGlyphs" x="587.4" y="866.97">中間柱</text>
<line x1="602.6" y1="873.3" x2="638.3" y2="873.3" stroke="#4a4a4a" stroke-width="0.6"/>
<circle cx="602.6" cy="873.3" r="0.9" fill="#333"/>
<circle cx="638.3" cy="873.3" r="0.9" fill="#333"/>
<line x1="602.6" y1="871.6" x2="602.6" y2="880.1" stroke="#4a4a4a" stroke-width="0.6"/>
<line x1="638.3" y1="871.6" x2="638.3" y2="880.1" stroke="#4a4a4a" stroke-width="0.6"/>
<text class="d" font-size="9.5" text-anchor="middle" textLength="9" lengthAdjust="spacingAndGlyphs" x="620.3" y="872.02">50</text>
<rect x="602.6" y="880.1" width="35.7" height="15.9" fill="#fff" stroke="#444" stroke-width="0.7"/>
<rect x="604.2" y="881.7" width="32.5" height="12.7" fill="none" stroke="#888" stroke-width="0.5"/>
<line x1="612" y1="882.8" x2="629" y2="882.8" stroke="#666" stroke-width="0.8"/>
<path d="M608.2,886.3 a2.3,2.3 0 1 1 0,4.2" fill="none" stroke="#444" stroke-width="0.6"/>
<circle cx="608.8" cy="888.4" r="0.9" fill="#fff"/>
<circle cx="608.8" cy="888.4" r="1" fill="none" stroke="#444" stroke-width="0.5"/>
<line x1="608.2" y1="886.3" x2="603.4" y2="886.3" stroke="#444" stroke-width="0.5"/>
<line x1="608.2" y1="890.5" x2="603.4" y2="890.5" stroke="#444" stroke-width="0.5"/>
<path d="M632.9,886.3 a2.3,2.3 0 1 0 0,4.2" fill="none" stroke="#444" stroke-width="0.6"/>
<circle cx="632.3" cy="888.4" r="0.9" fill="#fff"/>
<circle cx="632.3" cy="888.4" r="1" fill="none" stroke="#444" stroke-width="0.5"/>
<line x1="632.9" y1="886.3" x2="637.7" y2="886.3" stroke="#444" stroke-width="0.5"/>
<line x1="632.9" y1="890.5" x2="637.7" y2="890.5" stroke="#444" stroke-width="0.5"/>
<line x1="596" y1="878.9" x2="596" y2="897.2" stroke="#4a4a4a" stroke-width="0.6"/>
<circle cx="596" cy="880.1" r="0.9" fill="#333"/>
<circle cx="596" cy="896" r="0.9" fill="#333"/>
<line x1="594.8" y1="880.1" x2="602.6" y2="880.1" stroke="#4a4a4a" stroke-width="0.6"/>
<line x1="594.8" y1="896" x2="602.6" y2="896" stroke="#4a4a4a" stroke-width="0.6"/>
<text class="d" font-size="9.5" text-anchor="middle" textLength="9.2" lengthAdjust="spacingAndGlyphs" transform="translate(590.4 888.05) rotate(-90)" x="0" y="3.42">23</text>
<text class="j" font-size="8.8" textLength="26" lengthAdjust="spacingAndGlyphs" x="644.6" y="886.17">中間柱</text>
<line x1="643.5" y1="885" x2="638.4" y2="890" stroke="#484848" stroke-width="0.6"/>
<text class="d2" font-size="8.8" textLength="34.2" lengthAdjust="spacingAndGlyphs" x="645.1" y="896.67">(332mm²)</text>
<circle cx="18.9" cy="843.4" r="4.7" fill="#222"/>
<text class="hs" font-size="11" textLength="165.9" lengthAdjust="spacingAndGlyphs" x="24.6" y="847.36"><tspan class="lb">W20</tspan>以上同士を<tspan class="lb">L</tspan>字連結する場合</text>
<text class="n" font-size="8.4" textLength="118.4" lengthAdjust="spacingAndGlyphs" x="15.4" y="858.52">※図はW30+W30の場合です。</text>
<text class="n" font-size="8.4" textLength="159.6" lengthAdjust="spacingAndGlyphs" x="15.4" y="868.72">※笠木カバーの現場切り詰めが必要です。</text>
<polygon points="262.6,832 267.6,832 267.6,899.4 474.5,899.4 474.5,904.3 264.1,904.3 262.6,902.8" fill="#fff" stroke="#4a4a4a" stroke-width="0.6"/>
<line x1="471" y1="899.4" x2="471" y2="904.3" stroke="#4a4a4a" stroke-width="0.6"/>
<text class="d" font-size="9.5" text-anchor="middle" textLength="8.2" lengthAdjust="spacingAndGlyphs" x="256.7" y="878.72">70</text>
<line x1="252.1" y1="879.5" x2="269.6" y2="879.5" stroke="#4a4a4a" stroke-width="0.6"/>
<circle cx="262.6" cy="879.5" r="0.9" fill="#333"/>
<circle cx="267.6" cy="879.5" r="0.9" fill="#333"/>
<line x1="288.6" y1="887.4" x2="288.6" y2="905.5" stroke="#4a4a4a" stroke-width="0.6"/>
<circle cx="288.6" cy="899.4" r="0.9" fill="#333"/>
<circle cx="288.6" cy="904.3" r="0.9" fill="#333"/>
<text class="d" font-size="9.5" text-anchor="middle" textLength="8.2" lengthAdjust="spacingAndGlyphs" transform="translate(285.1 893.3) rotate(-90)" x="0" y="3.42">70</text>
<line x1="247.6" y1="914.5" x2="263.2" y2="903.1" stroke="#4a4a4a" stroke-width="0.6"/>
<text class="d" font-size="9.4" text-anchor="middle" textLength="14" lengthAdjust="spacingAndGlyphs" transform="translate(252 906.7) rotate(-42)" x="0" y="3.38">R20</text>
<line x1="259.6" y1="866.8" x2="262.4" y2="866.8" stroke="#4a4a4a" stroke-width="0.4"/>
<line x1="267.8" y1="866.8" x2="270.6" y2="866.8" stroke="#4a4a4a" stroke-width="0.4"/>
<polyline points="261.2,865.9 262.4,866.8 261.2,867.7" fill="none" stroke="#4a4a4a" stroke-width="0.4"/>
<polyline points="269,865.9 267.8,866.8 269,867.7" fill="none" stroke="#4a4a4a" stroke-width="0.4"/>
<rect x="20" y="1002.5" width="468.8" height="11.6" fill="#cbcbcb"/>
<line x1="20" y1="1002.5" x2="488.8" y2="1002.5" stroke="#4a4a4a" stroke-width="0.6"/>
<rect x="36.4" y="946.3" width="211.6" height="2.8" fill="#b8b8b8" stroke="#767676" stroke-width="0.6"/>
<rect x="36.4" y="949.1" width="2.4" height="65.4" fill="#e4e4e4" stroke="#767676" stroke-width="0.6"/>
<rect x="105.2" y="949.1" width="2.4" height="65.4" fill="#e4e4e4" stroke="#767676" stroke-width="0.6"/>
<rect x="174.6" y="949.1" width="2.4" height="65.4" fill="#e4e4e4" stroke="#767676" stroke-width="0.6"/>
<rect x="235.6" y="949.3" width="2.2" height="65.2" fill="#e4e4e4" stroke="#767676" stroke-width="0.6"/>
<rect x="242.6" y="949.3" width="5" height="65.2" fill="#fff" stroke="#767676" stroke-width="0.6"/>
<text class="d" font-size="9.5" text-anchor="middle" textLength="7.8" lengthAdjust="spacingAndGlyphs" x="238.5" y="942.92">60</text>
<rect x="235.6" y="943.1" width="7" height="3.6" fill="#d0d0d0" stroke="#777" stroke-width="0.4"/>
<text class="d" font-size="9.5" text-anchor="middle" textLength="12" lengthAdjust="spacingAndGlyphs" x="228.6" y="956.72">140</text>
<line x1="235.4" y1="949.3" x2="235.4" y2="958.2" stroke="#4a4a4a" stroke-width="0.5"/>
<circle cx="233" cy="957.7" r="0.7" fill="#777"/>
<line x1="36.4" y1="923.8" x2="248.6" y2="923.8" stroke="#4a4a4a" stroke-width="0.6"/>
<circle cx="36.4" cy="923.8" r="0.9" fill="#333"/>
<circle cx="248.6" cy="923.8" r="0.9" fill="#333"/>
<line x1="36.4" y1="922.1" x2="36.4" y2="946.3" stroke="#4a4a4a" stroke-width="0.6"/>
<line x1="248.6" y1="922.1" x2="248.6" y2="948.3" stroke="#4a4a4a" stroke-width="0.6"/>
<text class="d" font-size="9.5" text-anchor="middle" textLength="62.5" lengthAdjust="spacingAndGlyphs" x="142.55" y="922.22">(1000×Na)+58.3</text>
<line x1="39.2" y1="935.6" x2="244.4" y2="935.6" stroke="#4a4a4a" stroke-width="0.6"/>
<circle cx="39.2" cy="935.6" r="0.9" fill="#333"/>
<circle cx="244.4" cy="935.6" r="0.9" fill="#333"/>
<line x1="39.2" y1="933.9" x2="39.2" y2="946.3" stroke="#4a4a4a" stroke-width="0.6"/>
<line x1="244.4" y1="933.9" x2="244.4" y2="946.3" stroke="#4a4a4a" stroke-width="0.6"/>
<text class="d" font-size="9.5" text-anchor="middle" textLength="67.5" lengthAdjust="spacingAndGlyphs" x="142.55" y="934.22">L1a:(1000×Na)-59</text>
<line x1="21.8" y1="930.8" x2="37.2" y2="947.6" stroke="#4a4a4a" stroke-width="0.6"/>
<text class="d" font-size="9.4" text-anchor="middle" textLength="14" lengthAdjust="spacingAndGlyphs" transform="translate(29.9 932.3) rotate(45)" x="0" y="3.38">R40</text>
<line x1="61.3" y1="946.3" x2="61.3" y2="959.5" stroke="#4a4a4a" stroke-width="0.6"/>
<circle cx="61.3" cy="946.3" r="0.9" fill="#333"/>
<circle cx="61.3" cy="949.1" r="0.9" fill="#333"/>
<text class="d" font-size="9.5" text-anchor="middle" textLength="8" lengthAdjust="spacingAndGlyphs" transform="translate(58 954.4) rotate(-90)" x="0" y="3.42">25</text>
<line x1="33" y1="946.3" x2="33" y2="1036" stroke="#4a4a4a" stroke-width="0.6"/>
<line x1="31.5" y1="946.3" x2="36.4" y2="946.3" stroke="#4a4a4a" stroke-width="0.6"/>
<line x1="31.5" y1="1014.5" x2="36.4" y2="1014.5" stroke="#4a4a4a" stroke-width="0.6"/>
<circle cx="33" cy="946.3" r="0.9" fill="#333"/>
<circle cx="33" cy="1002.5" r="0.9" fill="#333"/>
<circle cx="33" cy="1014.5" r="0.9" fill="#333"/>
<text class="d" font-size="9.5" text-anchor="middle" textLength="30" lengthAdjust="spacingAndGlyphs" transform="translate(26.4 972.5) rotate(-90)" x="0" y="3.42">800[400]</text>
<text class="d" font-size="8.6" text-anchor="middle" textLength="30.5" lengthAdjust="spacingAndGlyphs" transform="translate(26.4 1019.25) rotate(-90)" x="0" y="3.1">180以上</text>
<text class="d" font-size="9.2" text-anchor="middle" textLength="12" lengthAdjust="spacingAndGlyphs" x="26" y="1001.31">G.L</text>
<text class="d" font-size="9.5" text-anchor="middle" textLength="8.2" lengthAdjust="spacingAndGlyphs" x="45.4" y="990.42">25</text>
<line x1="36.4" y1="991.5" x2="50.3" y2="991.5" stroke="#4a4a4a" stroke-width="0.6"/>
<circle cx="36.4" cy="991.5" r="0.9" fill="#333"/>
<circle cx="38.8" cy="991.5" r="0.9" fill="#333"/>
<text class="d" font-size="9.5" text-anchor="middle" textLength="24" lengthAdjust="spacingAndGlyphs" x="91" y="990.52">23×50</text>
<line x1="78.4" y1="991.5" x2="107.6" y2="991.5" stroke="#4a4a4a" stroke-width="0.6"/>
<circle cx="105.2" cy="991.5" r="0.9" fill="#333"/>
<circle cx="107.6" cy="991.5" r="0.9" fill="#333"/>
<text class="d" font-size="9.5" text-anchor="middle" textLength="24" lengthAdjust="spacingAndGlyphs" x="160.4" y="990.52">23×50</text>
<line x1="147.8" y1="991.5" x2="177" y2="991.5" stroke="#4a4a4a" stroke-width="0.6"/>
<circle cx="174.6" cy="991.5" r="0.9" fill="#333"/>
<circle cx="177" cy="991.5" r="0.9" fill="#333"/>
<text class="d" font-size="9.5" text-anchor="middle" textLength="8" lengthAdjust="spacingAndGlyphs" x="224" y="990.42">23</text>
<line x1="219.4" y1="991.5" x2="238" y2="991.5" stroke="#4a4a4a" stroke-width="0.6"/>
<circle cx="235.6" cy="991.5" r="0.9" fill="#333"/>
<circle cx="237.8" cy="991.5" r="0.9" fill="#333"/>
<text class="d" font-size="9.5" text-anchor="middle" textLength="8.4" lengthAdjust="spacingAndGlyphs" x="253.8" y="990.42">70</text>
<line x1="242.6" y1="991.5" x2="258.8" y2="991.5" stroke="#4a4a4a" stroke-width="0.6"/>
<circle cx="242.6" cy="991.5" r="0.9" fill="#333"/>
<circle cx="247.6" cy="991.5" r="0.9" fill="#333"/>
<text class="d" font-size="8.6" text-anchor="middle" textLength="12.2" lengthAdjust="spacingAndGlyphs" transform="translate(87.5 1009.6) rotate(-90)" x="0" y="3.1">180</text>
<text class="d" font-size="8.4" text-anchor="middle" textLength="15.6" lengthAdjust="spacingAndGlyphs" transform="translate(97.5 1014.5) rotate(-90)" x="0" y="3.02">以上</text>
<line x1="102.5" y1="1002.5" x2="102.5" y2="1014.6" stroke="#4a4a4a" stroke-width="0.6"/>
<circle cx="102.5" cy="1002.5" r="0.9" fill="#333"/>
<circle cx="102.5" cy="1014.4" r="0.9" fill="#333"/>
<line x1="101" y1="1014.4" x2="106.5" y2="1014.4" stroke="#4a4a4a" stroke-width="0.6"/>
<line x1="37.6" y1="1024.3" x2="236.7" y2="1024.3" stroke="#4a4a4a" stroke-width="0.6"/>
<line x1="37.6" y1="1014.5" x2="37.6" y2="1025.9" stroke="#4a4a4a" stroke-width="0.6"/>
<circle cx="37.6" cy="1024.3" r="0.9" fill="#333"/>
<line x1="106.4" y1="1014.5" x2="106.4" y2="1025.9" stroke="#4a4a4a" stroke-width="0.6"/>
<circle cx="106.4" cy="1024.3" r="0.9" fill="#333"/>
<line x1="175.8" y1="1014.5" x2="175.8" y2="1025.9" stroke="#4a4a4a" stroke-width="0.6"/>
<circle cx="175.8" cy="1024.3" r="0.9" fill="#333"/>
<line x1="236.7" y1="1014.5" x2="236.7" y2="1025.9" stroke="#4a4a4a" stroke-width="0.6"/>
<circle cx="236.7" cy="1024.3" r="0.9" fill="#333"/>
<text class="d" font-size="9.5" text-anchor="middle" textLength="17.5" lengthAdjust="spacingAndGlyphs" x="72" y="1022.72">1000</text>
<text class="d" font-size="9.5" text-anchor="middle" textLength="47.5" lengthAdjust="spacingAndGlyphs" x="141.1" y="1022.72">1000×(Na-2)</text>
<text class="d" font-size="9.5" text-anchor="middle" textLength="20" lengthAdjust="spacingAndGlyphs" x="206.25" y="1022.72">910.5</text>
<text class="j" font-size="8.6" textLength="61.2" lengthAdjust="spacingAndGlyphs" x="41.3" y="1033.1">柱芯々(1200以下)</text>
<text class="j" font-size="8.6" textLength="61.3" lengthAdjust="spacingAndGlyphs" x="110" y="1033.1">柱芯々(1200以下)</text>
<text class="j" font-size="8.6" textLength="57" lengthAdjust="spacingAndGlyphs" x="178.5" y="1033.1">柱芯々(1200以下)</text>
<line x1="37.6" y1="1047.5" x2="246.3" y2="1047.5" stroke="#4a4a4a" stroke-width="0.6"/>
<circle cx="37.6" cy="1047.5" r="0.9" fill="#333"/>
<circle cx="246.3" cy="1047.5" r="0.9" fill="#333"/>
<line x1="37.6" y1="1025.9" x2="37.6" y2="1049.1" stroke="#4a4a4a" stroke-width="0.6"/>
<line x1="246.3" y1="1014.5" x2="246.3" y2="1049.1" stroke="#4a4a4a" stroke-width="0.6"/>
<text class="d" font-size="9.5" text-anchor="middle" textLength="61.2" lengthAdjust="spacingAndGlyphs" x="141.9" y="1045.42">(1000×Na)+10.8</text>
<text class="j" font-size="8.6" textLength="23.8" lengthAdjust="spacingAndGlyphs" x="130" y="1056.9">柱芯々</text>
<rect x="262.6" y="946.3" width="211.8" height="2.8" fill="#b8b8b8" stroke="#767676" stroke-width="0.6"/>
<rect x="262.6" y="949.1" width="5" height="65.4" fill="#fff" stroke="#767676" stroke-width="0.6"/>
<rect x="334.4" y="949.1" width="2.4" height="65.4" fill="#e4e4e4" stroke="#767676" stroke-width="0.6"/>
<rect x="403.3" y="949.1" width="2.4" height="65.4" fill="#e4e4e4" stroke="#767676" stroke-width="0.6"/>
<rect x="471.9" y="949.1" width="2.4" height="65.4" fill="#e4e4e4" stroke="#767676" stroke-width="0.6"/>
<line x1="262.6" y1="924.1" x2="474.4" y2="924.1" stroke="#4a4a4a" stroke-width="0.6"/>
<circle cx="262.6" cy="924.1" r="0.9" fill="#333"/>
<circle cx="474.4" cy="924.1" r="0.9" fill="#333"/>
<line x1="262.6" y1="922.4" x2="262.6" y2="946.3" stroke="#4a4a4a" stroke-width="0.6"/>
<line x1="474.4" y1="922.4" x2="474.4" y2="946.3" stroke="#4a4a4a" stroke-width="0.6"/>
<text class="d" font-size="9.5" text-anchor="middle" textLength="61.8" lengthAdjust="spacingAndGlyphs" x="370.4" y="922.22">(1000×Nb)+58.3</text>
<line x1="267.8" y1="936.1" x2="471.8" y2="936.1" stroke="#4a4a4a" stroke-width="0.6"/>
<circle cx="267.8" cy="936.1" r="0.9" fill="#333"/>
<circle cx="471.8" cy="936.1" r="0.9" fill="#333"/>
<line x1="267.8" y1="934.4" x2="267.8" y2="946.3" stroke="#4a4a4a" stroke-width="0.6"/>
<line x1="471.8" y1="934.4" x2="471.8" y2="946.3" stroke="#4a4a4a" stroke-width="0.6"/>
<text class="d" font-size="9.5" text-anchor="middle" textLength="68.3" lengthAdjust="spacingAndGlyphs" x="369.65" y="934.72">L1b:(1000×Nb)-59</text>
<line x1="313.8" y1="946.3" x2="313.8" y2="959.5" stroke="#4a4a4a" stroke-width="0.6"/>
<circle cx="313.8" cy="946.3" r="0.9" fill="#333"/>
<circle cx="313.8" cy="949.1" r="0.9" fill="#333"/>
<text class="d" font-size="9.5" text-anchor="middle" textLength="8" lengthAdjust="spacingAndGlyphs" transform="translate(310.4 954.4) rotate(-90)" x="0" y="3.42">25</text>
<text class="d" font-size="9.5" text-anchor="middle" textLength="9" lengthAdjust="spacingAndGlyphs" x="274.1" y="980.42">70</text>
<line x1="262.6" y1="981.7" x2="279.4" y2="981.7" stroke="#4a4a4a" stroke-width="0.6"/>
<circle cx="262.6" cy="981.7" r="0.9" fill="#333"/>
<circle cx="267.6" cy="981.7" r="0.9" fill="#333"/>
<text class="d" font-size="9.5" text-anchor="middle" textLength="9" lengthAdjust="spacingAndGlyphs" x="274.1" y="990.42">50</text>
<line x1="262.6" y1="991.5" x2="279.4" y2="991.5" stroke="#4a4a4a" stroke-width="0.6"/>
<circle cx="263.8" cy="991.5" r="0.9" fill="#333"/>
<circle cx="266.4" cy="991.5" r="0.9" fill="#333"/>
<text class="d" font-size="9.5" text-anchor="middle" textLength="24" lengthAdjust="spacingAndGlyphs" x="320.2" y="990.52">23×50</text>
<line x1="307.6" y1="991.5" x2="336.8" y2="991.5" stroke="#4a4a4a" stroke-width="0.6"/>
<circle cx="334.4" cy="991.5" r="0.9" fill="#333"/>
<circle cx="336.8" cy="991.5" r="0.9" fill="#333"/>
<text class="d" font-size="9.5" text-anchor="middle" textLength="24" lengthAdjust="spacingAndGlyphs" x="389.1" y="990.52">23×50</text>
<line x1="376.5" y1="991.5" x2="405.7" y2="991.5" stroke="#4a4a4a" stroke-width="0.6"/>
<circle cx="403.3" cy="991.5" r="0.9" fill="#333"/>
<circle cx="405.7" cy="991.5" r="0.9" fill="#333"/>
<text class="d" font-size="9.5" text-anchor="middle" textLength="8" lengthAdjust="spacingAndGlyphs" x="466.5" y="990.42">25</text>
<line x1="461.8" y1="991.5" x2="474.4" y2="991.5" stroke="#4a4a4a" stroke-width="0.6"/>
<circle cx="471.9" cy="991.5" r="0.9" fill="#333"/>
<circle cx="474.3" cy="991.5" r="0.9" fill="#333"/>
<text class="d" font-size="8.6" text-anchor="middle" textLength="12.2" lengthAdjust="spacingAndGlyphs" transform="translate(315.5 1009.6) rotate(-90)" x="0" y="3.1">180</text>
<text class="d" font-size="8.4" text-anchor="middle" textLength="15.6" lengthAdjust="spacingAndGlyphs" transform="translate(325.5 1014.5) rotate(-90)" x="0" y="3.02">以上</text>
<line x1="329.3" y1="1002.5" x2="329.3" y2="1014.6" stroke="#4a4a4a" stroke-width="0.6"/>
<circle cx="329.3" cy="1002.5" r="0.9" fill="#333"/>
<circle cx="329.3" cy="1014.4" r="0.9" fill="#333"/>
<line x1="327.8" y1="1014.4" x2="333.3" y2="1014.4" stroke="#4a4a4a" stroke-width="0.6"/>
<line x1="487.1" y1="949.1" x2="487.1" y2="1002.5" stroke="#4a4a4a" stroke-width="0.6"/>
<line x1="474.4" y1="949.1" x2="488.6" y2="949.1" stroke="#4a4a4a" stroke-width="0.6"/>
<circle cx="487.1" cy="949.1" r="0.9" fill="#333"/>
<circle cx="487.1" cy="1002.5" r="0.9" fill="#333"/>
<text class="d" font-size="9.5" text-anchor="middle" textLength="33.5" lengthAdjust="spacingAndGlyphs" transform="translate(480.5 975.35) rotate(-90)" x="0" y="3.42">758 [358]</text>
<line x1="265.2" y1="1024.3" x2="473.1" y2="1024.3" stroke="#4a4a4a" stroke-width="0.6"/>
<line x1="265.2" y1="1014.5" x2="265.2" y2="1025.9" stroke="#4a4a4a" stroke-width="0.6"/>
<circle cx="265.2" cy="1024.3" r="0.9" fill="#333"/>
<line x1="335.6" y1="1014.5" x2="335.6" y2="1025.9" stroke="#4a4a4a" stroke-width="0.6"/>
<circle cx="335.6" cy="1024.3" r="0.9" fill="#333"/>
<line x1="404.5" y1="1014.5" x2="404.5" y2="1025.9" stroke="#4a4a4a" stroke-width="0.6"/>
<circle cx="404.5" cy="1024.3" r="0.9" fill="#333"/>
<line x1="473.1" y1="1014.5" x2="473.1" y2="1025.9" stroke="#4a4a4a" stroke-width="0.6"/>
<circle cx="473.1" cy="1024.3" r="0.9" fill="#333"/>
<text class="d" font-size="9.5" text-anchor="middle" textLength="23" lengthAdjust="spacingAndGlyphs" x="300.4" y="1022.72">1010.8</text>
<text class="d" font-size="9.5" text-anchor="middle" textLength="47" lengthAdjust="spacingAndGlyphs" x="370.05" y="1022.72">1000×(Nb-2)</text>
<text class="d" font-size="9.5" text-anchor="middle" textLength="17.5" lengthAdjust="spacingAndGlyphs" x="438.8" y="1022.72">1000</text>
<text class="j" font-size="8.6" textLength="61.3" lengthAdjust="spacingAndGlyphs" x="269.5" y="1033.1">柱芯々(1200以下)</text>
<text class="j" font-size="8.6" textLength="60.7" lengthAdjust="spacingAndGlyphs" x="338.8" y="1033.1">柱芯々(1200以下)</text>
<text class="j" font-size="8.6" textLength="60.8" lengthAdjust="spacingAndGlyphs" x="408" y="1033.1">柱芯々(1200以下)</text>
<line x1="265.2" y1="1047.4" x2="474.3" y2="1047.4" stroke="#4a4a4a" stroke-width="0.6"/>
<circle cx="265.2" cy="1047.4" r="0.9" fill="#333"/>
<circle cx="474.3" cy="1047.4" r="0.9" fill="#333"/>
<line x1="265.2" y1="1025.9" x2="265.2" y2="1049" stroke="#4a4a4a" stroke-width="0.6"/>
<line x1="474.3" y1="1014.5" x2="474.3" y2="1049" stroke="#4a4a4a" stroke-width="0.6"/>
<text class="d" font-size="9.5" text-anchor="middle" textLength="61.8" lengthAdjust="spacingAndGlyphs" x="370.4" y="1045.12">(1000×Nb)+10.8</text>
<text class="j" font-size="8.6" textLength="24.2" lengthAdjust="spacingAndGlyphs" x="357" y="1055.6">柱芯々</text>
<line x1="498" y1="973.9" x2="652.5" y2="973.9" stroke="#777" stroke-width="0.6"/>
<line x1="498" y1="984.3" x2="652.5" y2="984.3" stroke="#777" stroke-width="0.6"/>
<line x1="498" y1="994.8" x2="652.5" y2="994.8" stroke="#777" stroke-width="0.6"/>
<line x1="498" y1="1004.5" x2="652.5" y2="1004.5" stroke="#777" stroke-width="0.6"/>
<line x1="498" y1="1014.7" x2="652.5" y2="1014.7" stroke="#777" stroke-width="0.6"/>
<line x1="498" y1="973.9" x2="498" y2="1014.7" stroke="#777" stroke-width="0.6"/>
<line x1="530.1" y1="973.9" x2="530.1" y2="1014.7" stroke="#777" stroke-width="0.6"/>
<line x1="604.3" y1="973.9" x2="604.3" y2="1014.7" stroke="#777" stroke-width="0.6"/>
<line x1="628.7" y1="973.9" x2="628.7" y2="1014.7" stroke="#777" stroke-width="0.6"/>
<line x1="652.5" y1="973.9" x2="652.5" y2="1014.7" stroke="#777" stroke-width="0.6"/>
<text class="t" font-size="8.6" text-anchor="middle" textLength="63.98" lengthAdjust="spacingAndGlyphs" x="567.2" y="982.6">Na, Nb(スパン数)</text>
<text class="t" font-size="8.6" text-anchor="middle" textLength="13.33" lengthAdjust="spacingAndGlyphs" x="616.5" y="982.6">L1a</text>
<text class="t" font-size="8.6" text-anchor="middle" textLength="13.33" lengthAdjust="spacingAndGlyphs" x="640.6" y="982.6">L1b</text>
<text class="t" font-size="8.6" text-anchor="middle" textLength="16.51" lengthAdjust="spacingAndGlyphs" x="514.05" y="993.05">W20</text>
<text class="t" font-size="8.6" text-anchor="middle" textLength="4.73" lengthAdjust="spacingAndGlyphs" x="567.2" y="993.05">2</text>
<text class="t" font-size="8.6" text-anchor="middle" textLength="21.24" lengthAdjust="spacingAndGlyphs" x="616.5" y="993.05">1,941</text>
<text class="t" font-size="8.6" text-anchor="middle" textLength="21.24" lengthAdjust="spacingAndGlyphs" x="640.6" y="993.05">1,941</text>
<text class="t" font-size="8.6" text-anchor="middle" textLength="16.51" lengthAdjust="spacingAndGlyphs" x="514.05" y="1003.15">W30</text>
<text class="t" font-size="8.6" text-anchor="middle" textLength="4.73" lengthAdjust="spacingAndGlyphs" x="567.2" y="1003.15">3</text>
<text class="t" font-size="8.6" text-anchor="middle" textLength="21.24" lengthAdjust="spacingAndGlyphs" x="616.5" y="1003.15">2,941</text>
<text class="t" font-size="8.6" text-anchor="middle" textLength="21.24" lengthAdjust="spacingAndGlyphs" x="640.6" y="1003.15">2,941</text>
<text class="t" font-size="8.6" text-anchor="middle" textLength="16.51" lengthAdjust="spacingAndGlyphs" x="514.05" y="1013.1">W40</text>
<text class="t" font-size="8.6" text-anchor="middle" textLength="4.73" lengthAdjust="spacingAndGlyphs" x="567.2" y="1013.1">4</text>
<text class="t" font-size="8.6" text-anchor="middle" textLength="21.24" lengthAdjust="spacingAndGlyphs" x="616.5" y="1013.1">3,941</text>
<text class="t" font-size="8.6" text-anchor="middle" textLength="21.24" lengthAdjust="spacingAndGlyphs" x="640.6" y="1013.1">3,941</text>
</svg>
</body></html>
